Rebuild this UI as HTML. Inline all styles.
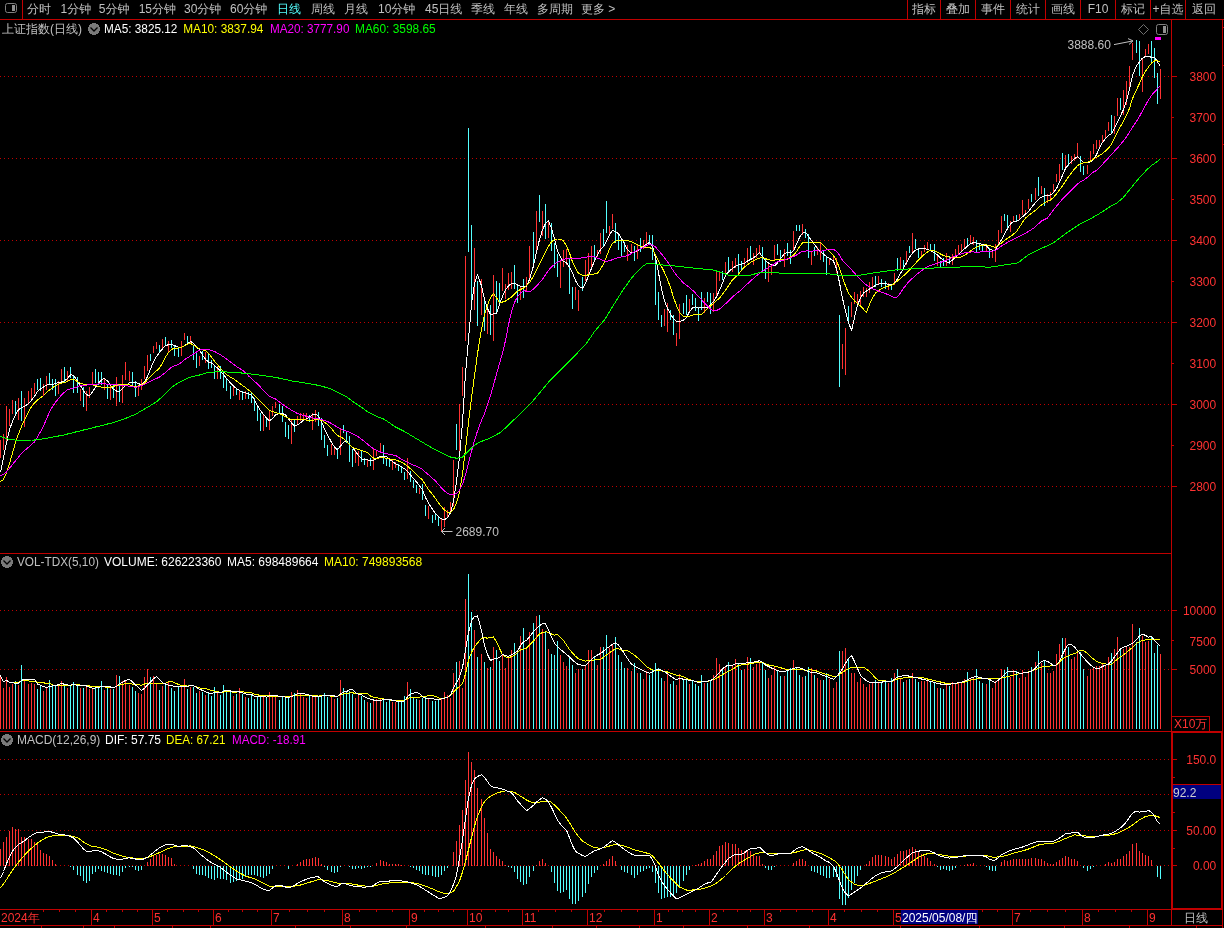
<!DOCTYPE html>
<html lang="zh"><head><meta charset="utf-8"><title>上证指数(日线)</title>
<style>
html,body{margin:0;padding:0;background:#000;}
body{width:1224px;height:928px;overflow:hidden;}
svg{display:block;will-change:transform;font-family:"Liberation Sans","WenQuanYi Zen Hei","Noto Sans CJK SC",sans-serif;shape-rendering:crispEdges;}
</style></head><body>
<svg width="1224" height="928" viewBox="0 0 1224 928">
<line x1="0" y1="486.5" x2="1171" y2="486.5" stroke="#c00000" stroke-dasharray="1 3"/>
<line x1="0" y1="404.5" x2="1171" y2="404.5" stroke="#c00000" stroke-dasharray="1 3"/>
<line x1="0" y1="322.5" x2="1171" y2="322.5" stroke="#c00000" stroke-dasharray="1 3"/>
<line x1="0" y1="240.5" x2="1171" y2="240.5" stroke="#c00000" stroke-dasharray="1 3"/>
<line x1="0" y1="158.5" x2="1171" y2="158.5" stroke="#c00000" stroke-dasharray="1 3"/>
<line x1="0" y1="76.5" x2="1171" y2="76.5" stroke="#c00000" stroke-dasharray="1 3"/>
<line x1="0" y1="610.5" x2="1171" y2="610.5" stroke="#c00000" stroke-dasharray="1 3"/>
<line x1="0" y1="669.5" x2="1171" y2="669.5" stroke="#c00000" stroke-dasharray="1 3"/>
<line x1="0" y1="759.5" x2="1171" y2="759.5" stroke="#c00000" stroke-dasharray="1 3"/>
<line x1="0" y1="794.5" x2="1171" y2="794.5" stroke="#c00000" stroke-dasharray="1 3"/>
<line x1="0" y1="830.5" x2="1171" y2="830.5" stroke="#c00000" stroke-dasharray="1 3"/>
<line x1="0" y1="865.5" x2="1171" y2="865.5" stroke="#c00000" stroke-dasharray="1 3"/>
<path d="M0.5 440V458M3.5 434V450M6.5 406V445M9.5 409V426M12.5 400V414M18.5 398V420M24.5 398V427M28.5 391V403M31.5 388V400M34.5 383V394M43.5 384V396M46.5 376V390M58.5 381V394M61.5 369V383M67.5 371V381M80.5 389V401M86.5 391V411M89.5 387V398M92.5 372V384M104.5 379V390M110.5 385V400M116.5 377V406M122.5 375V403M125.5 362V380M129.5 371V381M138.5 385V396M141.5 379V390M144.5 366V379M147.5 355V371M153.5 346V353M156.5 342V349M162.5 339V350M168.5 341V352M181.5 341V356M184.5 333V340M190.5 336V343M199.5 356V366M205.5 352V363M217.5 366V379M233.5 387V396M239.5 390V400M245.5 391V399M263.5 414V431M269.5 411V430M272.5 406V416M275.5 402V408M291.5 419V444M297.5 416V425M300.5 413V421M303.5 413V421M306.5 413V421M312.5 413V430M315.5 410V422M331.5 444V455M334.5 447V455M340.5 428V455M355.5 450V463M358.5 451V466M367.5 459V467M373.5 448V470M376.5 450V456M380.5 443V453M392.5 460V470M395.5 462V468M407.5 458V479M419.5 488V494M428.5 506V519M441.5 518V532M444.5 507V527M447.5 510V517M450.5 502V512M453.5 460V506M459.5 404V452M462.5 367V396M465.5 256V341M474.5 248V310M481.5 279V315M487.5 309V334M493.5 275V341M502.5 268V291M505.5 284V299M508.5 273V290M511.5 272V289M520.5 286V300M526.5 277V291M529.5 246V279M536.5 211V253M542.5 211V236M548.5 220V238M560.5 260V288M563.5 250V267M566.5 249V265M575.5 287V300M578.5 290V311M585.5 260V281M588.5 253V277M591.5 246V267M597.5 250V257M600.5 233V254M609.5 226V236M612.5 214V229M627.5 245V261M631.5 244V254M637.5 244V259M643.5 240V249M646.5 232V245M664.5 309V326M667.5 303V332M676.5 333V346M679.5 304V339M689.5 299V313M704.5 298V313M713.5 293V312M716.5 272V298M719.5 271V281M725.5 262V275M732.5 261V272M735.5 258V268M744.5 258V267M747.5 248V263M753.5 253V265M756.5 248V258M759.5 245V254M768.5 263V282M771.5 265V275M774.5 245V261M784.5 249V267M793.5 231V250M802.5 224V235M811.5 251V265M817.5 247V255M820.5 243V260M829.5 258V265M833.5 256V263M836.5 258V273M842.5 344V369M845.5 328V375M851.5 302V317M854.5 292V304M857.5 294V304M860.5 291V306M863.5 287V297M866.5 288V297M869.5 282V293M872.5 277V287M878.5 276V285M888.5 283V290M894.5 273V285M900.5 257V269M906.5 251V265M912.5 233V253M921.5 251V258M924.5 245V252M927.5 242V249M937.5 256V266M946.5 253V266M952.5 254V265M955.5 249V257M958.5 245V255M961.5 244V252M964.5 239V249M970.5 235V244M973.5 237V245M986.5 245V252M992.5 251V258M995.5 244V262M998.5 230V245M1001.5 216V233M1010.5 221V232M1013.5 216V222M1019.5 214V220M1022.5 200V215M1025.5 210V215M1028.5 199V209M1035.5 188V200M1041.5 186V194M1047.5 194V203M1050.5 192V199M1053.5 184V192M1056.5 174V182M1059.5 164V181M1065.5 155V170M1071.5 156V164M1074.5 154V161M1077.5 143V158M1087.5 165V174M1090.5 151V161M1093.5 144V154M1096.5 140V149M1099.5 140V149M1102.5 135V142M1105.5 130V138M1108.5 122V131M1114.5 116V134M1117.5 98V116M1123.5 90V115M1126.5 81V105M1129.5 66V90M1132.5 43V60M1142.5 59V92M1145.5 49V57M1148.5 44V54M1160.5 69V99" stroke="#ff3232" fill="none"/>
<path d="M15.5 401V416M21.5 391V421M37.5 379V390M40.5 378V391M49.5 373V385M52.5 379V390M55.5 379V396M64.5 367V383M70.5 367V378M73.5 375V393M77.5 377V393M83.5 387V407M95.5 369V383M98.5 372V385M101.5 372V385M107.5 384V399M113.5 384V398M119.5 384V402M132.5 372V387M135.5 381V397M150.5 354V361M159.5 345V353M165.5 337V346M171.5 340V348M174.5 346V356M178.5 347V357M187.5 336V344M193.5 346V360M196.5 352V368M202.5 351V360M208.5 354V369M211.5 360V368M214.5 365V379M220.5 366V379M223.5 371V388M226.5 378V391M230.5 386V399M236.5 389V395M242.5 391V400M248.5 392V399M251.5 393V403M254.5 398V411M257.5 406V421M260.5 413V431M266.5 417V427M279.5 404V414M282.5 406V422M285.5 422V437M288.5 425V439M294.5 420V432M309.5 415V422M318.5 412V426M321.5 418V440M324.5 435V448M327.5 445V456M337.5 448V459M343.5 425V433M346.5 432V443M349.5 436V462M352.5 449V467M361.5 451V462M364.5 458V465M370.5 458V466M383.5 445V464M386.5 458V466M389.5 460V467M398.5 464V471M401.5 466V473M404.5 472V480M410.5 471V482M413.5 480V488M416.5 485V493M422.5 484V500M425.5 505V516M432.5 515V523M435.5 513V520M438.5 517V526M456.5 424V450M468.5 128V252M471.5 225V302M477.5 281V326M484.5 300V331M490.5 305V335M496.5 281V312M499.5 283V305M514.5 265V289M517.5 284V303M523.5 279V298M533.5 232V267M539.5 195V222M545.5 204V239M551.5 223V251M554.5 243V268M557.5 254V277M569.5 259V294M572.5 287V309M582.5 277V291M594.5 245V260M603.5 229V247M606.5 201V233M615.5 223V243M618.5 233V250M621.5 239V257M624.5 242V252M634.5 246V261M640.5 238V252M649.5 235V244M652.5 235V260M655.5 254V305M658.5 292V320M661.5 315V327M670.5 310V320M673.5 315V335M683.5 303V314M686.5 295V315M692.5 294V305M695.5 298V311M698.5 307V321M701.5 292V310M707.5 292V302M710.5 293V314M722.5 271V280M728.5 257V271M738.5 254V275M741.5 261V271M750.5 246V259M762.5 247V272M765.5 259V279M777.5 244V255M780.5 250V262M787.5 243V256M790.5 250V264M796.5 225V231M799.5 225V231M805.5 229V238M808.5 234V258M814.5 247V256M823.5 250V262M826.5 257V275M839.5 315V387M848.5 306V322M875.5 276V287M881.5 279V287M885.5 281V289M891.5 284V290M897.5 258V271M903.5 260V269M909.5 246V253M915.5 239V249M918.5 248V258M930.5 244V250M934.5 244V261M940.5 261V268M943.5 258V266M949.5 256V264M967.5 238V247M976.5 240V253M979.5 243V250M982.5 244V251M989.5 248V258M1004.5 214V221M1007.5 215V229M1016.5 215V221M1031.5 194V202M1038.5 177V196M1044.5 188V206M1062.5 153V170M1068.5 154V166M1080.5 156V172M1083.5 166V175M1111.5 115V133M1120.5 98V110M1136.5 40V53M1139.5 41V76M1151.5 41V62M1154.5 48V78M1157.5 73V104" stroke="#54ffff" fill="none"/>
<path d="M0.5 472.2 3.5 457.2 6.5 443.1 9.5 429.7 12.5 421.5 15.5 414.6 18.5 409.6 21.5 407.8 24.5 406.3 28.5 403.8 31.5 400.1 34.5 396.3 37.5 391.4 40.5 389.1 43.5 387.1 46.5 385.1 49.5 384.8 52.5 384.5 55.5 383.5 58.5 382.7 61.5 382.0 64.5 380.9 67.5 378.5 70.5 374.9 73.5 375.2 77.5 381.2 80.5 385.7 83.5 391.0 86.5 394.5 89.5 396.0 92.5 391.8 95.5 387.3 98.5 383.1 101.5 379.8 104.5 378.5 107.5 381.0 110.5 384.9 113.5 389.4 116.5 391.0 119.5 391.8 122.5 388.8 125.5 385.8 129.5 382.6 132.5 382.2 135.5 382.2 138.5 383.7 141.5 384.6 144.5 382.3 147.5 376.6 150.5 369.0 153.5 361.8 156.5 356.4 159.5 352.4 162.5 348.8 165.5 345.8 168.5 344.6 171.5 344.5 174.5 345.5 178.5 347.4 181.5 347.3 184.5 345.8 187.5 343.6 190.5 341.4 193.5 343.3 196.5 346.9 199.5 349.7 202.5 355.1 205.5 359.3 208.5 362.1 211.5 362.9 214.5 365.6 217.5 368.1 220.5 371.0 223.5 374.7 226.5 378.3 230.5 383.1 233.5 386.1 236.5 388.5 239.5 390.5 242.5 392.3 245.5 392.8 248.5 393.7 251.5 395.5 254.5 399.8 257.5 405.6 260.5 410.5 263.5 414.6 266.5 418.0 269.5 420.8 272.5 418.6 275.5 414.9 279.5 413.6 282.5 413.7 285.5 414.7 288.5 418.9 291.5 422.8 294.5 426.1 297.5 424.9 300.5 422.7 303.5 420.2 306.5 418.7 309.5 416.9 312.5 414.7 315.5 414.0 318.5 416.3 321.5 421.6 324.5 428.8 327.5 434.8 331.5 442.3 334.5 447.1 337.5 449.8 340.5 446.0 343.5 442.4 346.5 441.0 349.5 444.7 352.5 447.7 355.5 451.4 358.5 455.5 361.5 458.8 364.5 459.7 367.5 460.0 370.5 460.4 373.5 460.6 376.5 458.4 380.5 456.4 383.5 456.2 386.5 456.5 389.5 459.2 392.5 461.5 395.5 463.6 398.5 465.1 401.5 466.8 404.5 468.8 407.5 471.5 410.5 475.0 413.5 478.5 416.5 482.0 419.5 485.9 422.5 490.0 425.5 497.5 428.5 503.0 432.5 509.4 435.5 513.4 438.5 516.6 441.5 519.0 444.5 519.5 447.5 517.9 450.5 512.6 453.5 501.3 456.5 481.4 459.5 456.9 462.5 422.4 465.5 373.5 468.5 339.7 471.5 303.8 474.5 283.7 477.5 274.3 481.5 285.9 484.5 299.2 487.5 308.5 490.5 314.5 493.5 314.0 496.5 313.3 499.5 304.3 502.5 296.5 505.5 289.9 508.5 286.0 511.5 283.4 514.5 283.1 517.5 285.1 520.5 286.3 523.5 286.9 526.5 286.4 529.5 279.4 533.5 265.8 536.5 251.8 539.5 239.6 542.5 229.8 545.5 223.4 548.5 220.7 551.5 228.7 554.5 238.7 557.5 250.6 560.5 257.2 563.5 261.5 566.5 262.6 569.5 267.1 572.5 273.0 575.5 280.5 578.5 285.8 582.5 288.4 585.5 283.3 588.5 275.8 591.5 268.3 594.5 260.8 597.5 254.7 600.5 249.7 603.5 246.8 606.5 241.5 609.5 234.6 612.5 230.3 615.5 231.5 618.5 233.8 621.5 238.4 624.5 244.2 627.5 249.6 631.5 253.1 634.5 252.0 637.5 250.6 640.5 248.8 643.5 246.4 646.5 244.2 649.5 242.3 652.5 246.5 655.5 257.3 658.5 272.7 661.5 288.9 664.5 300.7 667.5 308.4 670.5 314.2 673.5 318.7 676.5 321.2 679.5 321.5 683.5 320.2 686.5 317.4 689.5 311.6 692.5 308.0 695.5 306.9 698.5 308.1 701.5 307.8 704.5 307.5 707.5 307.2 710.5 304.9 713.5 301.5 716.5 296.7 719.5 290.3 722.5 283.1 725.5 275.5 728.5 271.9 732.5 268.3 735.5 266.2 738.5 264.7 741.5 264.3 744.5 263.3 747.5 260.9 750.5 259.5 753.5 257.9 756.5 255.5 759.5 252.6 762.5 256.7 765.5 260.4 768.5 263.1 771.5 264.9 774.5 265.8 777.5 262.9 780.5 258.5 784.5 253.7 787.5 252.3 790.5 252.9 793.5 250.8 796.5 244.3 799.5 237.3 802.5 233.3 805.5 232.1 808.5 236.4 811.5 240.4 814.5 244.5 817.5 248.4 820.5 251.4 823.5 254.1 826.5 256.5 829.5 258.4 833.5 261.1 836.5 268.8 839.5 282.8 842.5 298.3 845.5 311.5 848.5 322.4 851.5 330.7 854.5 317.5 857.5 305.3 860.5 297.7 863.5 293.1 866.5 291.1 869.5 289.1 872.5 287.1 875.5 285.4 878.5 284.1 881.5 283.3 885.5 283.4 888.5 284.8 891.5 285.0 894.5 282.7 897.5 278.9 900.5 273.5 903.5 268.1 906.5 262.7 909.5 257.3 912.5 253.2 915.5 250.2 918.5 249.0 921.5 248.4 924.5 248.4 927.5 249.5 930.5 250.7 934.5 252.6 937.5 255.0 940.5 257.9 943.5 260.6 946.5 262.0 949.5 262.1 952.5 260.2 955.5 257.0 958.5 254.5 961.5 251.8 964.5 248.8 967.5 246.1 970.5 243.8 973.5 242.6 976.5 243.1 979.5 243.9 982.5 244.2 986.5 245.8 989.5 249.4 992.5 250.1 995.5 250.1 998.5 244.5 1001.5 239.8 1004.5 234.2 1007.5 228.6 1010.5 223.9 1013.5 221.5 1016.5 221.3 1019.5 219.7 1022.5 216.8 1025.5 214.2 1028.5 211.4 1031.5 207.5 1035.5 202.6 1038.5 199.2 1041.5 197.1 1044.5 195.9 1047.5 195.4 1050.5 195.0 1053.5 192.8 1056.5 188.6 1059.5 182.1 1062.5 175.3 1065.5 168.3 1068.5 164.5 1071.5 161.2 1074.5 158.6 1077.5 156.6 1080.5 159.3 1083.5 162.3 1087.5 163.0 1090.5 161.9 1093.5 159.2 1096.5 154.8 1099.5 147.7 1102.5 142.4 1105.5 138.5 1108.5 135.5 1111.5 133.7 1114.5 127.9 1117.5 121.8 1120.5 115.8 1123.5 109.4 1126.5 101.0 1129.5 89.0 1132.5 75.6 1136.5 65.7 1139.5 61.7 1142.5 58.1 1145.5 56.4 1148.5 56.4 1151.5 57.3 1154.5 57.1 1157.5 61.9 1160.0 65.9" stroke="#ffffff" fill="none" stroke-linejoin="bevel"/>
<path d="M0.5 481.6 3.5 479.4 6.5 472.9 9.5 463.4 12.5 452.9 15.5 442.8 18.5 433.9 21.5 426.4 24.5 420.2 28.5 412.2 31.5 406.5 34.5 403.0 37.5 399.9 40.5 397.9 43.5 395.5 46.5 392.5 49.5 390.0 52.5 387.7 55.5 385.6 58.5 384.3 61.5 383.2 64.5 382.5 67.5 381.3 70.5 379.5 73.5 379.2 77.5 381.6 80.5 383.1 83.5 384.2 86.5 384.7 89.5 384.9 92.5 384.9 95.5 385.6 98.5 386.6 101.5 387.1 104.5 387.5 107.5 387.6 110.5 387.3 113.5 386.4 116.5 385.2 119.5 384.9 122.5 384.9 125.5 384.9 129.5 384.9 132.5 385.8 135.5 386.8 138.5 385.8 141.5 384.7 144.5 383.2 147.5 379.6 150.5 376.4 153.5 373.4 156.5 370.8 159.5 368.2 162.5 362.9 165.5 357.1 168.5 352.5 171.5 349.2 174.5 348.6 178.5 347.9 181.5 347.3 184.5 345.8 187.5 344.1 190.5 343.4 193.5 345.2 196.5 347.0 199.5 348.9 202.5 349.8 205.5 350.5 208.5 353.2 211.5 357.1 214.5 361.1 217.5 364.7 220.5 368.3 223.5 371.8 226.5 374.4 230.5 377.3 233.5 378.8 236.5 380.9 239.5 383.4 242.5 385.5 245.5 387.5 248.5 390.0 251.5 392.5 254.5 395.5 257.5 398.5 260.5 401.5 263.5 404.5 266.5 407.5 269.5 410.5 272.5 411.6 275.5 412.5 279.5 413.6 282.5 415.0 285.5 416.7 288.5 418.2 291.5 419.7 294.5 419.7 297.5 419.7 300.5 419.5 303.5 419.5 306.5 420.1 309.5 420.6 312.5 420.2 315.5 419.7 318.5 419.7 321.5 420.2 324.5 422.2 327.5 424.5 331.5 428.5 334.5 432.6 337.5 435.7 340.5 436.7 343.5 438.7 346.5 441.7 349.5 444.7 352.5 447.4 355.5 448.5 358.5 449.6 361.5 450.5 364.5 451.3 367.5 452.6 370.5 455.6 373.5 458.0 376.5 458.9 380.5 457.6 383.5 457.7 386.5 458.2 389.5 458.9 392.5 459.7 395.5 459.9 398.5 461.0 401.5 462.1 404.5 464.0 407.5 466.3 410.5 468.8 413.5 471.8 416.5 474.8 419.5 477.3 422.5 479.9 425.5 484.9 428.5 489.6 432.5 494.3 435.5 498.4 438.5 502.9 441.5 506.7 444.5 509.9 447.5 512.3 450.5 512.8 453.5 509.5 456.5 503.3 459.5 492.0 462.5 474.0 465.5 449.1 468.5 422.5 471.5 398.0 474.5 375.7 477.5 353.7 481.5 329.1 484.5 315.1 487.5 305.2 490.5 297.6 493.5 293.6 496.5 297.8 499.5 302.6 502.5 302.0 505.5 301.0 508.5 299.0 511.5 297.0 514.5 294.2 517.5 291.2 520.5 289.5 523.5 288.0 526.5 285.7 529.5 282.7 533.5 276.1 536.5 270.1 539.5 264.1 542.5 258.1 545.5 252.1 548.5 246.1 551.5 241.9 554.5 239.3 557.5 239.0 560.5 239.4 563.5 240.9 566.5 246.1 569.5 252.9 572.5 261.9 575.5 268.3 578.5 273.2 582.5 275.2 585.5 275.6 588.5 274.7 591.5 274.2 594.5 274.0 597.5 273.4 600.5 269.2 603.5 264.1 606.5 256.5 609.5 248.9 612.5 243.1 615.5 241.4 618.5 240.0 621.5 240.0 624.5 240.0 627.5 240.2 631.5 241.9 634.5 243.2 637.5 244.7 640.5 246.1 643.5 247.4 646.5 248.0 649.5 247.4 652.5 249.5 655.5 254.6 658.5 261.1 661.5 266.6 664.5 272.5 667.5 279.5 670.5 287.6 673.5 297.2 676.5 305.7 679.5 312.3 683.5 316.4 686.5 316.7 689.5 316.1 692.5 315.1 695.5 314.8 698.5 314.7 701.5 314.3 704.5 311.3 707.5 308.5 710.5 305.9 713.5 303.3 716.5 300.7 719.5 298.1 722.5 294.3 725.5 290.4 728.5 285.6 732.5 279.8 735.5 277.2 738.5 274.3 741.5 270.3 744.5 267.0 747.5 264.7 750.5 262.5 753.5 260.8 756.5 259.1 759.5 258.1 762.5 257.8 765.5 258.7 768.5 259.7 771.5 260.4 774.5 260.1 777.5 259.7 780.5 259.5 784.5 259.3 787.5 259.1 790.5 257.1 793.5 255.1 796.5 251.7 799.5 246.8 802.5 242.8 805.5 242.4 808.5 242.0 811.5 242.4 814.5 242.8 817.5 242.5 820.5 242.3 823.5 245.3 826.5 248.3 829.5 251.3 833.5 255.8 836.5 260.4 839.5 268.7 842.5 277.7 845.5 285.8 848.5 293.0 851.5 297.1 854.5 300.9 857.5 303.5 860.5 306.1 863.5 309.2 866.5 312.4 869.5 304.5 872.5 298.1 875.5 293.0 878.5 290.6 881.5 288.7 885.5 286.8 888.5 286.0 891.5 285.3 894.5 283.4 897.5 280.9 900.5 278.3 903.5 275.8 906.5 272.9 909.5 269.9 912.5 266.7 915.5 263.3 918.5 260.0 921.5 257.0 924.5 254.2 927.5 252.1 930.5 250.3 934.5 250.7 937.5 252.4 940.5 254.0 943.5 255.5 946.5 256.7 949.5 257.1 952.5 257.5 955.5 257.5 958.5 257.5 961.5 256.9 964.5 255.2 967.5 253.3 970.5 251.0 973.5 248.8 976.5 247.2 979.5 245.7 982.5 245.2 986.5 244.8 989.5 245.5 992.5 246.7 995.5 247.2 998.5 245.2 1001.5 242.9 1004.5 240.4 1007.5 238.4 1010.5 236.4 1013.5 234.2 1016.5 231.4 1019.5 227.2 1022.5 222.2 1025.5 218.0 1028.5 215.5 1031.5 213.3 1035.5 210.3 1038.5 207.3 1041.5 204.9 1044.5 202.8 1047.5 201.3 1050.5 200.0 1053.5 197.3 1056.5 194.0 1059.5 189.9 1062.5 185.8 1065.5 181.3 1068.5 176.8 1071.5 172.8 1074.5 168.9 1077.5 165.8 1080.5 163.5 1083.5 163.0 1087.5 162.1 1090.5 161.1 1093.5 159.1 1096.5 157.2 1099.5 155.4 1102.5 153.6 1105.5 150.9 1108.5 148.2 1111.5 144.0 1114.5 137.9 1117.5 131.9 1120.5 126.4 1123.5 121.4 1126.5 115.3 1129.5 108.3 1132.5 98.7 1136.5 89.8 1139.5 83.4 1142.5 76.4 1145.5 71.4 1148.5 67.0 1151.5 63.1 1154.5 60.9 1157.5 60.7 1160.0 61.7" stroke="#ffff00" fill="none" stroke-linejoin="bevel"/>
<path d="M0.5 475.5 3.5 474.7 6.5 471.9 9.5 468.3 12.5 464.6 15.5 460.8 18.5 457.1 21.5 453.3 24.5 450.6 28.5 447.2 31.5 444.6 34.5 442.0 37.5 437.0 40.5 431.6 43.5 426.1 46.5 418.9 49.5 412.3 52.5 406.5 55.5 402.3 58.5 398.5 61.5 395.0 64.5 392.2 67.5 389.7 70.5 388.9 73.5 388.2 77.5 386.7 80.5 385.5 83.5 385.3 86.5 385.1 89.5 384.8 92.5 384.6 95.5 384.4 98.5 384.0 101.5 383.6 104.5 383.8 107.5 384.2 110.5 384.6 113.5 384.8 116.5 384.9 119.5 385.1 122.5 385.3 125.5 385.7 129.5 386.3 132.5 386.8 135.5 387.3 138.5 386.5 141.5 385.6 144.5 384.1 147.5 382.6 150.5 381.1 153.5 379.7 156.5 378.5 159.5 377.1 162.5 374.8 165.5 372.5 168.5 369.8 171.5 367.2 174.5 365.8 178.5 364.3 181.5 362.2 184.5 359.7 187.5 357.7 190.5 355.9 193.5 354.0 196.5 352.0 199.5 350.1 202.5 349.5 205.5 349.2 208.5 349.8 211.5 350.3 214.5 351.5 217.5 353.1 220.5 354.8 223.5 356.8 226.5 359.0 230.5 362.0 233.5 364.3 236.5 366.5 239.5 368.4 242.5 370.3 245.5 372.8 248.5 375.8 251.5 378.7 254.5 381.4 257.5 384.0 260.5 387.2 263.5 390.7 266.5 393.5 269.5 396.2 272.5 397.6 275.5 399.0 279.5 402.0 282.5 404.2 285.5 406.3 288.5 408.3 291.5 410.1 294.5 411.9 297.5 413.5 300.5 414.4 303.5 415.4 306.5 416.3 309.5 417.2 312.5 418.0 315.5 418.4 318.5 418.8 321.5 419.6 324.5 420.5 327.5 421.4 331.5 423.6 334.5 425.5 337.5 427.1 340.5 428.6 343.5 430.1 346.5 431.2 349.5 432.3 352.5 433.7 355.5 435.2 358.5 437.0 361.5 439.2 364.5 441.5 367.5 444.1 370.5 446.7 373.5 448.8 376.5 450.3 380.5 452.0 383.5 452.8 386.5 453.5 389.5 454.3 392.5 455.0 395.5 455.4 398.5 457.3 401.5 459.2 404.5 460.8 407.5 462.3 410.5 463.8 413.5 465.1 416.5 466.3 419.5 467.5 422.5 469.5 425.5 472.2 428.5 474.8 432.5 478.3 435.5 481.0 438.5 484.5 441.5 487.9 444.5 490.9 447.5 493.4 450.5 495.0 453.5 494.7 456.5 493.4 459.5 490.4 462.5 484.3 465.5 474.8 468.5 463.3 471.5 451.3 474.5 440.6 477.5 431.0 481.5 420.5 484.5 413.5 487.5 404.7 490.5 395.6 493.5 384.9 496.5 374.2 499.5 363.6 502.5 352.9 505.5 340.6 508.5 324.8 511.5 311.9 514.5 302.3 517.5 297.0 520.5 293.1 523.5 290.6 526.5 291.2 529.5 292.0 533.5 289.0 536.5 286.2 539.5 282.7 542.5 279.2 545.5 274.8 548.5 270.3 551.5 266.9 554.5 264.4 557.5 262.1 560.5 260.6 563.5 259.1 566.5 258.9 569.5 258.9 572.5 258.9 575.5 258.6 578.5 258.3 582.5 257.8 585.5 257.3 588.5 256.7 591.5 256.2 594.5 256.9 597.5 258.1 600.5 259.3 603.5 260.6 606.5 261.3 609.5 260.8 612.5 259.6 615.5 258.4 618.5 257.5 621.5 257.0 624.5 256.6 627.5 255.6 631.5 253.4 634.5 251.8 637.5 250.3 640.5 248.8 643.5 247.2 646.5 245.5 649.5 244.2 652.5 245.2 655.5 247.0 658.5 250.4 661.5 253.9 664.5 257.8 667.5 261.7 670.5 266.3 673.5 271.0 676.5 275.3 679.5 278.7 683.5 282.9 686.5 285.2 689.5 287.4 692.5 290.2 695.5 293.2 698.5 296.4 701.5 299.7 704.5 303.1 707.5 306.2 710.5 309.2 713.5 310.7 716.5 310.5 719.5 309.1 722.5 306.5 725.5 303.8 728.5 301.0 732.5 297.0 735.5 294.3 738.5 292.1 741.5 289.8 744.5 286.8 747.5 283.8 750.5 281.0 753.5 278.4 756.5 275.8 759.5 273.6 762.5 271.3 765.5 269.3 768.5 267.5 771.5 265.6 774.5 263.7 777.5 261.8 780.5 260.8 784.5 259.8 787.5 258.8 790.5 257.7 793.5 256.5 796.5 255.0 799.5 253.0 802.5 251.4 805.5 251.1 808.5 250.8 811.5 251.6 814.5 250.4 817.5 250.5 820.5 251.4 823.5 250.7 826.5 249.9 829.5 249.6 833.5 249.3 836.5 251.2 839.5 255.2 842.5 260.2 845.5 263.6 848.5 266.6 851.5 269.7 854.5 273.1 857.5 276.5 860.5 279.5 863.5 282.5 866.5 285.0 869.5 286.9 872.5 288.7 875.5 289.8 878.5 291.0 881.5 292.1 885.5 293.6 888.5 294.8 891.5 296.2 894.5 297.5 897.5 297.0 900.5 292.7 903.5 288.3 906.5 284.5 909.5 280.9 912.5 278.2 915.5 275.5 918.5 272.9 921.5 270.8 924.5 268.7 927.5 266.7 930.5 265.6 934.5 264.3 937.5 263.3 940.5 262.3 943.5 261.4 946.5 260.3 949.5 258.8 952.5 257.4 955.5 256.0 958.5 254.9 961.5 253.9 964.5 252.9 967.5 252.5 970.5 252.1 973.5 251.8 976.5 252.5 979.5 252.1 982.5 251.5 986.5 251.5 989.5 251.5 992.5 251.2 995.5 250.5 998.5 248.2 1001.5 246.0 1004.5 244.2 1007.5 242.4 1010.5 240.6 1013.5 239.1 1016.5 237.6 1019.5 236.1 1022.5 234.6 1025.5 233.1 1028.5 231.4 1031.5 229.6 1035.5 226.8 1038.5 223.8 1041.5 221.0 1044.5 219.5 1047.5 218.0 1050.5 214.0 1053.5 209.9 1056.5 206.2 1059.5 202.6 1062.5 199.0 1065.5 196.0 1068.5 193.0 1071.5 190.0 1074.5 187.0 1077.5 184.0 1080.5 181.7 1083.5 180.2 1087.5 177.3 1090.5 174.3 1093.5 172.0 1096.5 170.5 1099.5 167.6 1102.5 164.3 1105.5 161.1 1108.5 157.8 1111.5 154.5 1114.5 151.2 1117.5 147.9 1120.5 144.6 1123.5 140.8 1126.5 137.0 1129.5 132.2 1132.5 127.3 1136.5 121.3 1139.5 116.4 1142.5 110.8 1145.5 105.3 1148.5 100.0 1151.5 95.4 1154.5 92.0 1157.5 88.7 1160.0 86.2" stroke="#ff00ff" fill="none" stroke-linejoin="bevel"/>
<path d="M0.5 436.4 3.5 437.5 6.5 438.7 9.5 439.3 12.5 439.7 15.5 440.1 18.5 440.4 21.5 440.3 24.5 440.3 28.5 440.1 31.5 440.0 34.5 440.0 37.5 439.7 40.5 439.2 43.5 438.7 46.5 438.2 49.5 437.7 52.5 437.1 55.5 436.6 58.5 436.0 61.5 435.5 64.5 434.8 67.5 434.0 70.5 433.3 73.5 432.5 77.5 431.5 80.5 430.8 83.5 430.0 86.5 429.3 89.5 428.5 92.5 427.8 95.5 427.0 98.5 426.3 101.5 425.5 104.5 424.8 107.5 424.0 110.5 423.3 113.5 422.5 116.5 421.5 119.5 420.5 122.5 419.5 125.5 418.4 129.5 416.8 132.5 415.5 135.5 414.3 138.5 412.5 141.5 410.8 144.5 409.0 147.5 407.3 150.5 405.5 153.5 403.7 156.5 401.7 159.5 399.2 162.5 396.4 165.5 393.4 168.5 390.4 171.5 387.4 174.5 385.3 178.5 382.8 181.5 381.2 184.5 379.7 187.5 378.2 190.5 377.2 193.5 376.4 196.5 375.7 199.5 375.0 202.5 374.1 205.5 373.1 208.5 372.4 211.5 372.2 214.5 372.0 217.5 371.8 220.5 371.8 223.5 371.9 226.5 372.0 230.5 372.1 233.5 372.2 236.5 372.5 239.5 372.8 242.5 373.1 245.5 373.4 248.5 373.7 251.5 374.1 254.5 374.4 257.5 374.8 260.5 375.2 263.5 375.6 266.5 376.1 269.5 376.5 272.5 377.0 275.5 377.4 279.5 378.2 282.5 378.9 285.5 379.5 288.5 380.2 291.5 380.9 294.5 381.4 297.5 381.8 300.5 382.3 303.5 382.7 306.5 383.2 309.5 383.7 312.5 384.3 315.5 384.8 318.5 385.4 321.5 386.2 324.5 387.0 327.5 387.9 331.5 389.3 334.5 390.8 337.5 392.3 340.5 393.8 343.5 395.3 346.5 396.8 349.5 399.1 352.5 401.3 355.5 403.4 358.5 405.3 361.5 407.2 364.5 409.4 367.5 411.7 370.5 413.4 373.5 414.9 376.5 416.3 380.5 417.8 383.5 419.0 386.5 420.9 389.5 422.8 392.5 424.9 395.5 427.0 398.5 428.5 401.5 430.0 404.5 431.5 407.5 433.3 410.5 435.1 413.5 436.9 416.5 438.7 419.5 440.5 422.5 442.3 425.5 444.1 428.5 445.9 432.5 448.2 435.5 449.7 438.5 451.2 441.5 452.7 444.5 454.2 447.5 455.7 450.5 457.0 453.5 457.6 456.5 458.2 459.5 457.8 462.5 457.0 465.5 454.2 468.5 451.2 471.5 448.2 474.5 445.4 477.5 443.4 481.5 441.4 484.5 440.3 487.5 439.1 490.5 437.6 493.5 436.1 496.5 434.6 499.5 433.0 502.5 430.5 505.5 427.9 508.5 424.9 511.5 421.9 514.5 419.2 517.5 416.5 520.5 413.8 523.5 410.8 526.5 407.8 529.5 404.8 533.5 400.2 536.5 396.6 539.5 393.0 542.5 389.4 545.5 385.8 548.5 382.2 551.5 379.1 554.5 376.1 557.5 373.1 560.5 370.0 563.5 367.0 566.5 364.0 569.5 360.9 572.5 357.9 575.5 354.9 578.5 351.8 582.5 347.8 585.5 344.7 588.5 340.3 591.5 336.0 594.5 331.6 597.5 328.0 600.5 324.5 603.5 321.1 606.5 316.8 609.5 311.8 612.5 306.7 615.5 301.9 618.5 297.1 621.5 292.3 624.5 287.9 627.5 283.7 631.5 278.1 634.5 274.7 637.5 271.3 640.5 268.3 643.5 265.8 646.5 263.9 649.5 263.3 652.5 263.7 655.5 264.1 658.5 264.6 661.5 264.9 664.5 265.1 667.5 265.3 670.5 265.5 673.5 265.8 676.5 266.2 679.5 266.5 683.5 266.9 686.5 267.3 689.5 267.6 692.5 268.0 695.5 268.3 698.5 268.7 701.5 268.9 704.5 269.1 707.5 269.3 710.5 269.5 713.5 270.1 716.5 271.0 719.5 271.9 722.5 272.8 725.5 274.0 728.5 275.1 732.5 275.3 735.5 275.4 738.5 275.5 741.5 275.4 744.5 275.3 747.5 275.3 750.5 275.2 753.5 274.3 756.5 273.4 759.5 272.5 762.5 272.4 765.5 272.4 768.5 272.4 771.5 272.5 774.5 272.7 777.5 272.9 780.5 273.1 784.5 273.3 787.5 273.3 790.5 273.3 793.5 273.3 796.5 273.3 799.5 273.3 802.5 273.2 805.5 273.2 808.5 273.1 811.5 273.2 814.5 273.3 817.5 273.4 820.5 273.5 823.5 273.6 826.5 273.7 829.5 274.0 833.5 274.5 836.5 274.8 839.5 275.2 842.5 275.6 845.5 275.8 848.5 275.8 851.5 275.7 854.5 275.6 857.5 275.5 860.5 275.1 863.5 274.6 866.5 274.1 869.5 273.6 872.5 273.1 875.5 272.7 878.5 272.2 881.5 271.8 885.5 271.2 888.5 270.9 891.5 270.5 894.5 270.1 897.5 269.7 900.5 269.4 903.5 269.2 906.5 269.1 909.5 268.9 912.5 268.7 915.5 268.5 918.5 268.3 921.5 268.3 924.5 268.2 927.5 268.2 930.5 268.1 934.5 268.0 937.5 267.9 940.5 267.8 943.5 267.7 946.5 267.6 949.5 267.5 952.5 267.3 955.5 267.2 958.5 267.1 961.5 266.9 964.5 266.8 967.5 266.6 970.5 266.5 973.5 266.4 976.5 266.5 979.5 266.7 982.5 266.8 986.5 267.1 989.5 267.2 992.5 266.9 995.5 266.4 998.5 265.9 1001.5 265.5 1004.5 265.0 1007.5 264.6 1010.5 264.1 1013.5 263.6 1016.5 263.2 1019.5 261.7 1022.5 259.3 1025.5 256.9 1028.5 254.7 1031.5 253.2 1035.5 251.2 1038.5 249.7 1041.5 248.3 1044.5 247.0 1047.5 245.7 1050.5 244.4 1053.5 242.8 1056.5 240.6 1059.5 238.3 1062.5 236.1 1065.5 233.8 1068.5 231.7 1071.5 229.7 1074.5 227.6 1077.5 225.6 1080.5 223.8 1083.5 222.3 1087.5 220.3 1090.5 218.8 1093.5 217.0 1096.5 215.3 1099.5 213.5 1102.5 211.6 1105.5 209.6 1108.5 207.6 1111.5 205.8 1114.5 204.3 1117.5 202.6 1120.5 199.9 1123.5 197.3 1126.5 193.6 1129.5 189.8 1132.5 186.1 1136.5 181.1 1139.5 177.7 1142.5 174.3 1145.5 171.2 1148.5 168.2 1151.5 165.6 1154.5 163.4 1157.5 161.2 1160.0 159.5" stroke="#00ff00" fill="none" stroke-linejoin="bevel"/>
<path d="M0.5 675V729M3.5 688V729M6.5 677V729M9.5 687V729M12.5 684V729M18.5 685V729M24.5 679V729M28.5 684V729M31.5 683V729M34.5 684V729M43.5 691V729M46.5 687V729M58.5 685V729M61.5 681V729M67.5 688V729M80.5 688V729M86.5 687V729M89.5 689V729M92.5 688V729M104.5 690V729M110.5 689V729M116.5 675V729M122.5 681V729M125.5 680V729M129.5 685V729M138.5 693V729M141.5 694V729M144.5 677V729M147.5 669V729M153.5 676V729M156.5 684V729M162.5 686V729M168.5 681V729M181.5 686V729M184.5 679V729M190.5 687V729M199.5 691V729M205.5 695V729M217.5 693V729M233.5 696V729M239.5 688V729M245.5 697V729M263.5 696V729M269.5 692V729M272.5 696V729M275.5 696V729M291.5 692V729M297.5 690V729M300.5 694V729M303.5 697V729M306.5 698V729M312.5 696V729M315.5 697V729M331.5 696V729M334.5 699V729M340.5 680V729M355.5 698V729M358.5 695V729M367.5 702V729M373.5 699V729M376.5 699V729M380.5 699V729M392.5 702V729M395.5 702V729M407.5 682V729M419.5 700V729M428.5 699V729M441.5 699V729M444.5 692V729M447.5 695V729M450.5 698V729M453.5 673V729M459.5 661V729M462.5 688V729M465.5 599V729M474.5 630V729M481.5 654V729M487.5 668V729M493.5 647V729M502.5 654V729M505.5 668V729M508.5 656V729M511.5 650V729M520.5 636V729M526.5 647V729M529.5 632V729M536.5 616V729M542.5 629V729M548.5 649V729M560.5 655V729M563.5 662V729M566.5 666V729M575.5 673V729M578.5 669V729M585.5 666V729M588.5 650V729M591.5 650V729M597.5 665V729M600.5 647V729M609.5 648V729M612.5 645V729M627.5 668V729M631.5 671V729M637.5 673V729M643.5 679V729M646.5 671V729M664.5 681V729M667.5 673V729M676.5 685V729M679.5 674V729M689.5 684V729M704.5 683V729M713.5 675V729M716.5 658V729M719.5 664V729M725.5 667V729M732.5 666V729M735.5 659V729M744.5 669V729M747.5 657V729M753.5 667V729M756.5 664V729M759.5 662V729M768.5 678V729M771.5 675V729M774.5 666V729M784.5 676V729M793.5 660V729M802.5 677V729M811.5 668V729M817.5 678V729M820.5 680V729M829.5 679V729M833.5 688V729M836.5 682V729M842.5 651V729M845.5 648V729M851.5 673V729M854.5 673V729M857.5 682V729M860.5 678V729M863.5 684V729M866.5 687V729M869.5 684V729M872.5 682V729M878.5 682V729M888.5 683V729M894.5 673V729M900.5 678V729M906.5 680V729M912.5 673V729M921.5 681V729M924.5 681V729M927.5 681V729M937.5 688V729M946.5 685V729M952.5 682V729M955.5 683V729M958.5 683V729M961.5 683V729M964.5 679V729M970.5 679V729M973.5 678V729M986.5 684V729M992.5 688V729M995.5 681V729M998.5 679V729M1001.5 669V729M1010.5 677V729M1013.5 670V729M1019.5 678V729M1022.5 670V729M1025.5 677V729M1028.5 672V729M1035.5 662V729M1041.5 663V729M1047.5 673V729M1050.5 673V729M1053.5 671V729M1056.5 654V729M1059.5 644V729M1065.5 638V729M1071.5 659V729M1074.5 657V729M1077.5 652V729M1087.5 676V729M1090.5 669V729M1093.5 668V729M1096.5 666V729M1099.5 666V729M1102.5 664V729M1105.5 665V729M1108.5 657V729M1114.5 649V729M1117.5 637V729M1123.5 649V729M1126.5 647V729M1129.5 647V729M1132.5 624V729M1142.5 636V729M1145.5 642V729M1148.5 641V729M1160.5 654V729" stroke="#ff3232" fill="none"/>
<path d="M15.5 681V729M21.5 665V729M37.5 689V729M40.5 685V729M49.5 680V729M52.5 685V729M55.5 685V729M64.5 685V729M70.5 686V729M73.5 682V729M77.5 684V729M83.5 688V729M95.5 687V729M98.5 686V729M101.5 681V729M107.5 688V729M113.5 689V729M119.5 676V729M132.5 687V729M135.5 691V729M150.5 677V729M159.5 690V729M165.5 683V729M171.5 688V729M174.5 691V729M178.5 686V729M187.5 689V729M193.5 687V729M196.5 693V729M202.5 692V729M208.5 693V729M211.5 696V729M214.5 687V729M220.5 695V729M223.5 685V729M226.5 690V729M230.5 691V729M236.5 694V729M242.5 694V729M248.5 698V729M251.5 694V729M254.5 699V729M257.5 696V729M260.5 697V729M266.5 697V729M279.5 700V729M282.5 697V729M285.5 697V729M288.5 697V729M294.5 693V729M309.5 696V729M318.5 696V729M321.5 695V729M324.5 693V729M327.5 697V729M337.5 698V729M343.5 688V729M346.5 692V729M349.5 691V729M352.5 694V729M361.5 696V729M364.5 700V729M370.5 703V729M383.5 698V729M386.5 702V729M389.5 700V729M398.5 702V729M401.5 702V729M404.5 696V729M410.5 689V729M413.5 697V729M416.5 699V729M422.5 698V729M425.5 697V729M432.5 701V729M435.5 701V729M438.5 699V729M456.5 662V729M468.5 574V729M471.5 612V729M477.5 657V729M484.5 662V729M490.5 667V729M496.5 650V729M499.5 661V729M514.5 643V729M517.5 650V729M523.5 628V729M533.5 623V729M539.5 615V729M545.5 631V729M551.5 654V729M554.5 655V729M557.5 641V729M569.5 656V729M572.5 665V729M582.5 669V729M594.5 656V729M603.5 647V729M606.5 635V729M615.5 637V729M618.5 655V729M621.5 662V729M624.5 668V729M634.5 663V729M640.5 673V729M649.5 675V729M652.5 669V729M655.5 663V729M658.5 668V729M661.5 678V729M670.5 684V729M673.5 681V729M683.5 679V729M686.5 679V729M692.5 680V729M695.5 684V729M698.5 686V729M701.5 675V729M707.5 683V729M710.5 681V729M722.5 668V729M728.5 662V729M738.5 664V729M741.5 670V729M750.5 658V729M762.5 662V729M765.5 670V729M777.5 670V729M780.5 676V729M787.5 670V729M790.5 668V729M796.5 668V729M799.5 675V729M805.5 676V729M808.5 667V729M814.5 675V729M823.5 680V729M826.5 673V729M839.5 651V729M848.5 659V729M875.5 680V729M881.5 682V729M885.5 682V729M891.5 678V729M897.5 669V729M903.5 682V729M909.5 679V729M915.5 679V729M918.5 682V729M930.5 682V729M934.5 682V729M940.5 688V729M943.5 689V729M949.5 686V729M967.5 672V729M976.5 669V729M979.5 681V729M982.5 683V729M989.5 680V729M1004.5 670V729M1007.5 667V729M1016.5 671V729M1031.5 667V729M1038.5 651V729M1044.5 661V729M1062.5 638V729M1068.5 647V729M1080.5 652V729M1083.5 669V729M1111.5 653V729M1120.5 648V729M1136.5 642V729M1139.5 628V729M1151.5 636V729M1154.5 653V729M1157.5 645V729" stroke="#54ffff" fill="none"/>
<path d="M0.5 675.5 3.5 681.9 6.5 680.4 9.5 682.1 12.5 682.5 15.5 682.4 18.5 682.8 21.5 680.5 24.5 680.4 28.5 680.8 31.5 681.6 34.5 681.2 37.5 682.4 40.5 682.2 43.5 682.8 46.5 683.4 49.5 682.9 52.5 684.9 55.5 685.5 58.5 685.6 61.5 685.4 64.5 685.5 67.5 685.4 70.5 685.5 73.5 684.6 77.5 684.3 80.5 685.1 83.5 685.4 86.5 685.6 89.5 686.0 92.5 686.7 95.5 686.9 98.5 686.7 101.5 686.2 104.5 687.0 107.5 687.4 110.5 687.5 113.5 687.6 116.5 686.4 119.5 685.1 122.5 684.4 125.5 683.6 129.5 683.5 132.5 684.2 135.5 684.3 138.5 684.7 141.5 685.2 144.5 684.0 147.5 683.4 150.5 683.5 153.5 683.0 156.5 683.5 159.5 683.9 162.5 683.8 165.5 683.1 168.5 681.9 171.5 681.3 174.5 682.7 178.5 684.4 181.5 685.4 184.5 685.6 187.5 686.1 190.5 685.8 193.5 685.9 196.5 686.9 199.5 687.9 202.5 688.3 205.5 688.7 208.5 689.4 211.5 690.4 214.5 691.1 217.5 691.5 220.5 692.3 223.5 692.1 226.5 691.8 230.5 691.8 233.5 692.2 236.5 692.1 239.5 691.6 242.5 691.4 245.5 692.5 248.5 692.9 251.5 692.8 254.5 694.2 257.5 694.8 260.5 695.4 263.5 695.4 266.5 695.7 269.5 696.1 272.5 696.3 275.5 696.2 279.5 696.4 282.5 696.7 285.5 696.5 288.5 696.6 291.5 696.1 294.5 695.8 297.5 695.1 300.5 695.3 303.5 695.4 306.5 695.6 309.5 695.2 312.5 695.1 315.5 695.1 318.5 695.0 321.5 695.3 324.5 695.3 327.5 695.9 331.5 696.1 334.5 696.3 337.5 696.3 340.5 694.7 343.5 693.9 346.5 693.4 349.5 692.9 352.5 692.8 355.5 693.4 358.5 693.2 361.5 693.2 364.5 693.3 367.5 693.7 370.5 696.0 373.5 697.1 376.5 697.7 380.5 698.5 383.5 698.9 386.5 699.3 389.5 699.8 392.5 700.4 395.5 700.6 398.5 700.6 401.5 700.5 404.5 700.2 407.5 698.5 410.5 697.5 413.5 697.4 416.5 697.1 419.5 697.1 422.5 696.7 425.5 696.2 428.5 695.9 432.5 695.7 435.5 696.2 438.5 697.9 441.5 698.6 444.5 697.8 447.5 697.1 450.5 695.7 453.5 692.2 456.5 688.9 459.5 686.3 462.5 683.6 465.5 673.9 468.5 660.4 471.5 652.4 474.5 646.9 477.5 643.0 481.5 638.4 484.5 637.8 487.5 638.1 490.5 637.7 493.5 636.9 496.5 641.9 499.5 648.3 502.5 654.8 505.5 656.9 508.5 657.9 511.5 656.6 514.5 655.3 517.5 652.6 520.5 650.0 523.5 649.2 526.5 648.2 529.5 645.2 533.5 641.0 536.5 637.4 539.5 633.9 542.5 632.6 545.5 631.8 548.5 632.3 551.5 634.0 554.5 635.1 557.5 634.4 560.5 637.4 563.5 640.6 566.5 645.0 569.5 649.5 572.5 652.9 575.5 656.3 578.5 658.7 582.5 660.2 585.5 661.1 588.5 660.8 591.5 660.4 594.5 660.0 597.5 659.6 600.5 659.3 603.5 657.2 606.5 654.9 609.5 652.7 612.5 650.7 615.5 648.7 618.5 648.9 621.5 650.1 624.5 650.5 627.5 650.7 631.5 653.1 634.5 655.2 637.5 657.7 640.5 660.7 643.5 663.7 646.5 666.5 649.5 668.5 652.5 670.0 655.5 670.2 658.5 670.3 661.5 670.8 664.5 671.4 667.5 672.0 670.5 673.1 673.5 674.2 676.5 675.1 679.5 675.4 683.5 676.9 686.5 678.3 689.5 679.6 692.5 680.7 695.5 681.3 698.5 681.8 701.5 681.8 704.5 681.6 707.5 681.3 710.5 680.4 713.5 679.5 716.5 678.2 719.5 676.3 722.5 674.5 725.5 672.9 728.5 671.4 732.5 669.2 735.5 667.3 738.5 665.4 741.5 664.9 744.5 664.6 747.5 664.2 750.5 663.6 753.5 663.1 756.5 662.8 759.5 662.6 762.5 662.4 765.5 663.7 768.5 665.0 771.5 665.6 774.5 666.1 777.5 666.8 780.5 667.7 784.5 668.9 787.5 669.3 790.5 669.7 793.5 669.6 796.5 669.3 799.5 669.5 802.5 669.8 805.5 670.2 808.5 670.0 811.5 669.9 814.5 670.3 817.5 671.4 820.5 672.5 823.5 673.5 826.5 674.4 829.5 675.3 833.5 676.4 836.5 676.6 839.5 674.4 842.5 672.3 845.5 670.4 848.5 668.5 851.5 667.7 854.5 667.4 857.5 667.3 860.5 667.3 863.5 667.3 866.5 669.1 869.5 671.6 872.5 674.7 875.5 677.9 878.5 680.6 881.5 680.8 885.5 681.0 888.5 681.2 891.5 681.4 894.5 680.2 897.5 679.0 900.5 678.5 903.5 678.0 906.5 677.7 909.5 677.3 912.5 677.1 915.5 677.1 918.5 677.2 921.5 677.5 924.5 678.2 927.5 679.0 930.5 679.7 934.5 680.6 937.5 681.3 940.5 682.0 943.5 682.8 946.5 683.4 949.5 683.4 952.5 683.4 955.5 683.3 958.5 683.0 961.5 682.7 964.5 682.0 967.5 681.1 970.5 680.1 973.5 679.4 976.5 678.9 979.5 678.4 982.5 678.3 986.5 678.3 989.5 678.3 992.5 678.4 995.5 678.5 998.5 678.7 1001.5 678.1 1004.5 677.4 1007.5 676.6 1010.5 675.9 1013.5 675.1 1016.5 674.4 1019.5 673.8 1022.5 673.2 1025.5 672.5 1028.5 671.8 1031.5 671.0 1035.5 669.6 1038.5 668.3 1041.5 667.1 1044.5 666.7 1047.5 666.3 1050.5 665.9 1053.5 665.4 1056.5 664.9 1059.5 661.9 1062.5 658.9 1065.5 657.2 1068.5 655.7 1071.5 654.6 1074.5 653.6 1077.5 652.1 1080.5 650.3 1083.5 650.7 1087.5 653.5 1090.5 656.5 1093.5 659.0 1096.5 661.5 1099.5 662.6 1102.5 663.6 1105.5 664.0 1108.5 664.1 1111.5 664.3 1114.5 661.7 1117.5 659.0 1120.5 656.9 1123.5 654.9 1126.5 652.5 1129.5 650.0 1132.5 647.3 1136.5 643.3 1139.5 641.7 1142.5 640.5 1145.5 639.9 1148.5 639.7 1151.5 639.5 1154.5 639.4 1157.5 639.4 1160.0 639.4" stroke="#ffff00" fill="none" stroke-linejoin="bevel"/>
<path d="M0.5 675.5 3.5 681.9 6.5 680.4 9.5 682.1 12.5 682.5 15.5 683.7 18.5 683.1 21.5 680.6 24.5 679.0 28.5 679.0 31.5 679.4 34.5 679.2 37.5 684.1 40.5 685.3 43.5 686.7 46.5 687.5 49.5 686.5 52.5 685.8 55.5 685.8 58.5 684.6 61.5 683.3 64.5 684.4 67.5 685.0 70.5 685.2 73.5 684.5 77.5 685.2 80.5 685.8 83.5 685.8 86.5 686.0 89.5 687.4 92.5 688.2 95.5 688.0 98.5 687.6 101.5 686.3 104.5 686.6 107.5 686.6 110.5 687.0 113.5 687.6 116.5 686.4 119.5 683.5 122.5 682.2 125.5 680.3 129.5 679.5 132.5 681.9 135.5 685.0 138.5 687.3 141.5 690.2 144.5 688.5 147.5 684.9 150.5 682.1 153.5 678.7 156.5 676.7 159.5 679.3 162.5 682.8 165.5 684.0 168.5 685.1 171.5 685.9 174.5 686.1 178.5 686.1 181.5 686.7 184.5 686.2 187.5 686.4 190.5 685.6 193.5 685.8 196.5 687.2 199.5 689.6 202.5 690.2 205.5 691.8 208.5 692.9 211.5 693.5 214.5 692.7 217.5 692.9 220.5 692.9 223.5 691.3 226.5 690.1 230.5 691.0 233.5 691.6 236.5 691.4 239.5 692.0 242.5 692.7 245.5 693.9 248.5 694.3 251.5 694.3 254.5 696.5 257.5 696.9 260.5 696.9 263.5 696.5 266.5 697.1 269.5 695.7 272.5 695.7 275.5 695.5 279.5 696.3 282.5 696.3 285.5 697.3 288.5 697.5 291.5 696.7 294.5 695.3 297.5 693.9 300.5 693.3 303.5 693.3 306.5 694.5 309.5 695.1 312.5 696.3 315.5 696.9 318.5 696.7 321.5 696.1 324.5 695.4 327.5 695.6 331.5 695.4 334.5 696.0 337.5 696.6 340.5 694.0 343.5 692.2 346.5 691.5 349.5 689.9 352.5 689.1 355.5 692.7 358.5 694.1 361.5 694.9 364.5 696.7 367.5 698.2 370.5 699.2 373.5 700.0 376.5 700.6 380.5 700.4 383.5 699.6 386.5 699.4 389.5 699.6 392.5 700.2 395.5 700.8 398.5 701.6 401.5 701.6 404.5 700.8 407.5 696.7 410.5 694.1 413.5 693.1 416.5 692.5 419.5 693.3 422.5 696.6 425.5 698.2 428.5 698.6 432.5 698.9 435.5 699.1 438.5 699.3 441.5 699.0 444.5 698.1 447.5 697.2 450.5 694.9 453.5 688.2 456.5 682.6 459.5 677.1 462.5 667.5 465.5 650.3 468.5 632.5 471.5 620.8 474.5 616.6 477.5 615.9 481.5 630.4 484.5 645.4 487.5 654.4 490.5 660.4 493.5 659.2 496.5 658.5 499.5 657.6 502.5 654.6 505.5 655.6 508.5 656.3 511.5 654.8 514.5 653.1 517.5 651.3 520.5 645.6 523.5 641.7 526.5 640.5 529.5 636.8 533.5 631.4 536.5 628.4 539.5 625.8 542.5 623.7 545.5 623.8 548.5 629.8 551.5 637.0 554.5 643.3 557.5 646.3 560.5 649.3 563.5 652.1 566.5 654.3 569.5 656.9 572.5 660.2 575.5 662.6 578.5 664.6 582.5 665.4 585.5 665.3 588.5 662.6 591.5 659.7 594.5 656.7 597.5 655.0 600.5 653.5 603.5 651.1 606.5 648.6 609.5 646.4 612.5 644.2 615.5 642.9 618.5 645.1 621.5 649.2 624.5 654.0 627.5 658.6 631.5 664.3 634.5 666.1 637.5 667.8 640.5 669.3 643.5 670.8 646.5 672.1 649.5 673.4 652.5 671.8 655.5 670.3 658.5 669.1 661.5 670.3 664.5 671.5 667.5 673.6 670.5 676.1 673.5 678.1 676.5 679.7 679.5 678.1 683.5 679.3 686.5 679.8 689.5 680.2 692.5 680.5 695.5 681.3 698.5 682.5 701.5 682.0 704.5 681.5 707.5 681.1 710.5 680.7 713.5 678.5 716.5 675.7 719.5 672.4 722.5 668.9 725.5 666.6 728.5 665.0 732.5 665.4 735.5 663.9 738.5 663.3 741.5 663.3 744.5 663.2 747.5 662.8 750.5 662.4 753.5 662.1 756.5 661.7 759.5 660.7 762.5 662.4 765.5 665.0 768.5 666.5 771.5 668.0 774.5 669.3 777.5 670.5 780.5 671.5 784.5 671.3 787.5 670.6 790.5 669.6 793.5 668.6 796.5 667.6 799.5 667.9 802.5 668.9 805.5 670.2 808.5 671.7 811.5 672.2 814.5 672.2 817.5 673.1 820.5 674.4 823.5 675.6 826.5 676.6 829.5 677.7 833.5 679.3 836.5 676.5 839.5 673.1 842.5 668.9 845.5 663.5 848.5 658.5 851.5 655.5 854.5 661.5 857.5 668.3 860.5 675.3 863.5 678.3 866.5 680.7 869.5 682.2 872.5 682.5 875.5 682.5 878.5 682.5 881.5 682.2 885.5 681.4 888.5 681.4 891.5 681.4 894.5 679.3 897.5 677.1 900.5 676.3 903.5 675.5 906.5 675.8 909.5 676.1 912.5 676.8 915.5 677.5 918.5 678.2 921.5 679.0 924.5 679.7 927.5 680.5 930.5 681.3 934.5 682.5 937.5 683.4 940.5 684.0 943.5 684.6 946.5 685.0 949.5 684.4 952.5 683.8 955.5 683.2 958.5 682.7 961.5 682.2 964.5 681.1 967.5 679.6 970.5 678.3 973.5 677.1 976.5 676.4 979.5 677.4 982.5 678.3 986.5 678.6 989.5 679.4 992.5 681.4 995.5 682.4 998.5 679.9 1001.5 677.4 1004.5 674.4 1007.5 671.4 1010.5 671.3 1013.5 671.3 1016.5 672.1 1019.5 673.1 1022.5 673.1 1025.5 672.7 1028.5 672.1 1031.5 671.1 1035.5 668.3 1038.5 664.1 1041.5 661.6 1044.5 660.5 1047.5 661.3 1050.5 663.2 1053.5 665.9 1056.5 664.7 1059.5 661.6 1062.5 654.4 1065.5 648.6 1068.5 644.1 1071.5 644.7 1074.5 646.9 1077.5 650.5 1080.5 654.1 1083.5 657.6 1087.5 662.0 1090.5 665.0 1093.5 667.4 1096.5 668.6 1099.5 668.2 1102.5 666.4 1105.5 665.2 1108.5 664.2 1111.5 661.1 1114.5 656.9 1117.5 652.9 1120.5 648.9 1123.5 647.2 1126.5 646.2 1129.5 644.8 1132.5 643.3 1136.5 639.6 1139.5 636.1 1142.5 634.3 1145.5 635.4 1148.5 637.1 1151.5 636.3 1154.5 640.5 1157.5 643.8 1160.0 645.8" stroke="#ffffff" fill="none" stroke-linejoin="bevel"/>
<path d="M0.5 849V866M3.5 842V866M6.5 837V866M9.5 831V866M12.5 827V866M15.5 829V866M18.5 829V866M21.5 837V866M24.5 837V866M28.5 839V866M31.5 839V866M34.5 842V866M37.5 844V866M40.5 850V866M43.5 853V866M46.5 854V866M49.5 856V866M52.5 860V866M55.5 864V866M147.5 862V866M150.5 859V866M153.5 856V866M156.5 855V866M159.5 854V866M162.5 854V866M165.5 855V866M168.5 857V866M171.5 858V866M174.5 864V866M297.5 864V866M300.5 862V866M303.5 860V866M306.5 859V866M309.5 859V866M312.5 858V866M315.5 857V866M318.5 858V866M321.5 864V866M376.5 863V866M380.5 860V866M383.5 861V866M386.5 862V866M389.5 864V866M392.5 864V866M395.5 864V866M398.5 864V866M401.5 865V866M453.5 852V866M456.5 841V866M459.5 825V866M462.5 810V866M465.5 780V866M468.5 752V866M471.5 762V866M474.5 770V866M477.5 788V866M481.5 799V866M484.5 818V866M487.5 833V866M490.5 849V866M493.5 852V866M496.5 856V866M499.5 859V866M502.5 861V866M505.5 865V866M536.5 865V866M539.5 861V866M542.5 859V866M545.5 863V866M603.5 864V866M606.5 861V866M609.5 859V866M612.5 856V866M615.5 861V866M695.5 865V866M698.5 864V866M701.5 863V866M704.5 861V866M707.5 859V866M710.5 859V866M713.5 855V866M716.5 851V866M719.5 846V866M722.5 845V866M725.5 842V866M728.5 843V866M732.5 844V866M735.5 844V866M738.5 848V866M741.5 850V866M744.5 851V866M747.5 851V866M750.5 851V866M753.5 854V866M756.5 856V866M759.5 856V866M762.5 864V866M793.5 863V866M796.5 861V866M799.5 859V866M802.5 859V866M805.5 861V866M866.5 864V866M869.5 861V866M872.5 857V866M875.5 855V866M878.5 855V866M881.5 855V866M878.5 855V866M881.5 855V866M885.5 856V866M888.5 857V866M891.5 859V866M894.5 857V866M897.5 854V866M900.5 851V866M903.5 851V866M906.5 850V866M909.5 849V866M912.5 847V866M915.5 849V866M918.5 852V866M921.5 854V866M924.5 856V866M927.5 858V866M930.5 861V866M934.5 864V866M964.5 865V866M967.5 864V866M970.5 864V866M973.5 863V866M1001.5 862V866M1004.5 860V866M1007.5 861V866M1010.5 860V866M1013.5 859V866M1016.5 859V866M1019.5 859V866M1022.5 859V866M1025.5 859V866M1028.5 859V866M1031.5 858V866M1035.5 858V866M1038.5 859V866M1041.5 859V866M1044.5 861V866M1047.5 863V866M1050.5 864V866M1053.5 864V866M1056.5 862V866M1059.5 860V866M1062.5 858V866M1065.5 856V866M1068.5 857V866M1071.5 859V866M1074.5 859V866M1077.5 861V866M1105.5 864V866M1108.5 862V866M1111.5 863V866M1114.5 862V866M1117.5 859V866M1120.5 859V866M1123.5 856V866M1126.5 854V866M1129.5 851V866M1132.5 844V866M1136.5 843V866M1139.5 851V866M1142.5 853V866M1145.5 855V866M1148.5 856V866M1151.5 860V866" stroke="#ff3232" fill="none"/>
<path d="M70.5 866V867M73.5 866V870M77.5 866V875M80.5 866V876M83.5 866V881M86.5 866V883M89.5 866V881M92.5 866V874M95.5 866V872M98.5 866V869M101.5 866V871M104.5 866V872M107.5 866V873M110.5 866V874M113.5 866V875M116.5 866V875M119.5 866V876M122.5 866V872M125.5 866V868M129.5 866V867M132.5 866V867M135.5 866V870M138.5 866V871M141.5 866V870M193.5 866V869M196.5 866V874M199.5 866V875M202.5 866V875M205.5 866V876M208.5 866V878M211.5 866V879M214.5 866V880M217.5 866V878M220.5 866V879M223.5 866V879M226.5 866V880M230.5 866V883M233.5 866V882M236.5 866V881M239.5 866V880M242.5 866V879M245.5 866V876M248.5 866V875M251.5 866V875M254.5 866V875M257.5 866V876M260.5 866V877M263.5 866V878M266.5 866V876M269.5 866V874M272.5 866V869M288.5 866V869M324.5 866V867M327.5 866V870M331.5 866V872M334.5 866V873M337.5 866V872M340.5 866V867M349.5 866V867M352.5 866V869M355.5 866V869M358.5 866V868M361.5 866V869M364.5 866V868M367.5 866V867M370.5 866V867M410.5 866V867M413.5 866V868M416.5 866V870M419.5 866V871M422.5 866V874M425.5 866V875M428.5 866V875M432.5 866V876M435.5 866V877M438.5 866V877M441.5 866V875M444.5 866V871M447.5 866V868M508.5 866V867M511.5 866V868M514.5 866V872M517.5 866V879M520.5 866V882M523.5 866V885M526.5 866V884M529.5 866V877M533.5 866V871M551.5 866V872M554.5 866V883M557.5 866V891M560.5 866V893M563.5 866V892M566.5 866V890M569.5 866V899M572.5 866V904M575.5 866V904M578.5 866V901M582.5 866V897M585.5 866V893M588.5 866V884M591.5 866V877M594.5 866V873M597.5 866V870M621.5 866V870M624.5 866V872M627.5 866V873M631.5 866V875M634.5 866V878M637.5 866V875M640.5 866V872M643.5 866V871M646.5 866V869M649.5 866V868M652.5 866V872M655.5 866V883M658.5 866V893M661.5 866V899M664.5 866V898M667.5 866V897M670.5 866V897M673.5 866V895M676.5 866V893M679.5 866V887M683.5 866V881M686.5 866V875M689.5 866V870M765.5 866V868M768.5 866V870M771.5 866V870M774.5 866V867M811.5 866V871M814.5 866V872M817.5 866V873M820.5 866V875M823.5 866V876M826.5 866V878M829.5 866V878M833.5 866V877M836.5 866V877M839.5 866V899M842.5 866V905M845.5 866V905M848.5 866V898M851.5 866V890M854.5 866V883M857.5 866V876M860.5 866V870M937.5 866V867M940.5 866V870M943.5 866V869M946.5 866V870M949.5 866V871M952.5 866V870M955.5 866V868M986.5 866V867M989.5 866V870M992.5 866V871M995.5 866V871M1083.5 866V868M1087.5 866V871M1090.5 866V869M1093.5 866V867M1157.5 866V877M1160.5 866V879" stroke="#54ffff" fill="none"/>
<path d="M0.5 887.6 3.5 883.9 6.5 879.6 9.5 874.8 12.5 870.2 15.5 866.0 18.5 862.2 21.5 858.7 24.5 855.2 28.5 851.2 31.5 848.2 34.5 845.6 37.5 843.1 40.5 840.9 43.5 839.2 46.5 837.5 49.5 836.7 52.5 835.9 55.5 835.5 58.5 835.5 61.5 835.5 64.5 835.6 67.5 835.8 70.5 836.0 73.5 836.7 77.5 837.7 80.5 839.6 83.5 842.0 86.5 843.9 89.5 845.4 92.5 846.6 95.5 846.9 98.5 847.2 101.5 848.1 104.5 849.1 107.5 850.1 110.5 851.6 113.5 853.1 116.5 854.3 119.5 855.2 122.5 856.1 125.5 856.9 129.5 857.5 132.5 858.0 135.5 858.3 138.5 858.3 141.5 858.3 144.5 858.3 147.5 857.4 150.5 856.4 153.5 855.2 156.5 853.9 159.5 852.6 162.5 851.1 165.5 849.6 168.5 848.4 171.5 847.4 174.5 846.6 178.5 846.6 181.5 846.6 184.5 846.3 187.5 846.1 190.5 845.9 193.5 846.6 196.5 847.6 199.5 848.6 202.5 849.6 205.5 850.6 208.5 852.2 211.5 854.0 214.5 855.7 217.5 857.6 220.5 859.7 223.5 861.8 226.5 864.0 230.5 866.9 233.5 869.0 236.5 871.0 239.5 872.8 242.5 874.5 245.5 876.1 248.5 877.0 251.5 877.9 254.5 878.8 257.5 880.3 260.5 881.9 263.5 883.4 266.5 884.8 269.5 886.2 272.5 886.3 275.5 886.3 279.5 886.3 282.5 886.5 285.5 886.7 288.5 887.0 291.5 886.6 294.5 886.1 297.5 885.6 300.5 885.0 303.5 884.1 306.5 883.2 309.5 882.3 312.5 881.4 315.5 880.5 318.5 879.6 321.5 879.7 324.5 880.2 327.5 880.7 331.5 881.6 334.5 882.4 337.5 883.1 340.5 883.5 343.5 883.5 346.5 883.5 349.5 883.6 352.5 884.1 355.5 884.6 358.5 885.2 361.5 885.5 364.5 885.9 367.5 886.3 370.5 886.6 373.5 886.0 376.5 885.3 380.5 884.3 383.5 883.8 386.5 883.3 389.5 882.9 392.5 882.6 395.5 882.5 398.5 882.3 401.5 882.3 404.5 882.3 407.5 882.3 410.5 882.3 413.5 882.9 416.5 883.5 419.5 884.1 422.5 885.1 425.5 886.2 428.5 887.2 432.5 888.9 435.5 890.3 438.5 891.6 441.5 892.6 444.5 893.4 447.5 893.8 450.5 892.9 453.5 891.2 456.5 886.4 459.5 881.1 462.5 872.1 465.5 861.6 468.5 849.6 471.5 837.6 474.5 826.1 477.5 816.4 481.5 806.9 484.5 801.7 487.5 798.7 490.5 796.1 493.5 794.6 496.5 793.1 499.5 792.2 502.5 791.6 505.5 790.9 508.5 791.1 511.5 791.4 514.5 792.4 517.5 794.2 520.5 796.1 523.5 798.1 526.5 800.1 529.5 801.5 533.5 802.8 536.5 803.0 539.5 802.2 542.5 801.4 545.5 801.2 548.5 801.0 551.5 802.4 554.5 805.1 557.5 807.9 560.5 811.3 563.5 814.6 566.5 818.0 569.5 822.8 572.5 827.8 575.5 832.4 578.5 836.4 582.5 841.1 585.5 842.9 588.5 844.7 591.5 846.5 594.5 847.7 597.5 848.0 600.5 848.3 603.5 847.6 606.5 846.8 609.5 846.0 612.5 845.1 615.5 844.2 618.5 844.5 621.5 845.3 624.5 846.2 627.5 847.2 631.5 848.7 634.5 849.9 637.5 850.7 640.5 851.4 643.5 852.2 646.5 853.0 649.5 853.8 652.5 856.0 655.5 859.3 658.5 863.0 661.5 867.0 664.5 871.0 667.5 874.5 670.5 878.0 673.5 881.2 676.5 884.2 679.5 887.0 683.5 888.7 686.5 890.0 689.5 890.0 692.5 890.0 695.5 889.8 698.5 889.3 701.5 888.9 704.5 888.1 707.5 887.2 710.5 886.2 713.5 884.7 716.5 883.0 719.5 880.9 722.5 878.2 725.5 875.5 728.5 872.5 732.5 868.5 735.5 866.1 738.5 863.8 741.5 861.7 744.5 860.0 747.5 858.3 750.5 856.5 753.5 854.7 756.5 853.5 759.5 853.0 762.5 852.5 765.5 852.9 768.5 853.3 771.5 853.6 774.5 853.7 777.5 853.7 780.5 853.7 784.5 853.6 787.5 853.5 790.5 853.3 793.5 852.8 796.5 852.0 799.5 851.2 802.5 850.4 805.5 849.6 808.5 849.8 811.5 850.6 814.5 851.5 817.5 852.5 820.5 853.5 823.5 854.8 826.5 856.3 829.5 857.9 833.5 860.2 836.5 862.2 839.5 866.2 842.5 870.3 845.5 875.1 848.5 879.6 851.5 881.9 854.5 884.2 857.5 885.2 860.5 885.4 863.5 885.4 866.5 884.4 869.5 883.4 872.5 882.3 875.5 881.1 878.5 879.9 881.5 878.7 885.5 877.1 888.5 875.7 891.5 874.2 894.5 872.7 897.5 870.9 900.5 869.1 903.5 867.2 906.5 865.3 909.5 863.3 912.5 861.3 915.5 859.3 918.5 857.3 921.5 855.7 924.5 854.7 927.5 853.7 930.5 853.7 934.5 853.7 937.5 854.2 940.5 854.7 943.5 855.2 946.5 855.7 949.5 856.2 952.5 856.3 955.5 856.5 958.5 856.6 961.5 856.4 964.5 856.1 967.5 855.9 970.5 855.6 973.5 855.4 976.5 855.1 979.5 855.0 982.5 855.3 986.5 855.7 989.5 856.4 992.5 857.1 995.5 857.2 998.5 856.9 1001.5 856.5 1004.5 855.9 1007.5 855.2 1010.5 854.2 1013.5 853.2 1016.5 852.3 1019.5 851.6 1022.5 850.9 1025.5 850.0 1028.5 849.0 1031.5 847.9 1035.5 846.1 1038.5 845.0 1041.5 844.5 1044.5 844.0 1047.5 843.8 1050.5 843.6 1053.5 843.1 1056.5 842.1 1059.5 841.1 1062.5 839.8 1065.5 838.5 1068.5 837.3 1071.5 836.1 1074.5 834.9 1077.5 835.1 1080.5 835.3 1083.5 835.6 1087.5 836.3 1090.5 836.5 1093.5 836.3 1096.5 836.1 1099.5 836.0 1102.5 835.9 1105.5 835.9 1108.5 835.4 1111.5 834.7 1114.5 834.0 1117.5 833.1 1120.5 831.8 1123.5 830.5 1126.5 828.8 1129.5 827.1 1132.5 825.0 1136.5 822.0 1139.5 819.9 1142.5 818.2 1145.5 816.5 1148.5 816.0 1151.5 815.5 1154.5 815.7 1157.5 816.7 1160.0 817.5" stroke="#ffff00" fill="none" stroke-linejoin="bevel"/>
<path d="M0.5 878.5 3.5 871.5 6.5 863.5 9.5 857.0 12.5 851.2 15.5 847.4 18.5 844.5 21.5 842.7 24.5 840.7 28.5 837.5 31.5 835.5 34.5 833.7 37.5 832.4 40.5 832.4 43.5 832.2 46.5 831.3 49.5 831.4 52.5 832.3 55.5 833.3 58.5 834.2 61.5 834.6 64.5 835.0 67.5 835.4 70.5 836.5 73.5 838.0 77.5 842.0 80.5 845.4 83.5 849.0 86.5 851.2 89.5 851.6 92.5 850.8 95.5 850.4 98.5 850.7 101.5 851.9 104.5 853.5 107.5 855.2 110.5 857.0 113.5 858.5 116.5 859.2 119.5 859.9 122.5 859.2 125.5 858.2 129.5 857.9 132.5 858.4 135.5 859.0 138.5 859.6 141.5 859.8 144.5 858.6 147.5 857.2 150.5 854.8 153.5 852.4 156.5 850.0 159.5 847.7 162.5 846.2 165.5 844.7 168.5 844.1 171.5 844.1 174.5 845.3 178.5 846.5 181.5 846.0 184.5 845.6 187.5 845.8 190.5 846.8 193.5 847.8 196.5 850.7 199.5 853.5 202.5 856.0 205.5 858.5 208.5 860.6 211.5 862.6 214.5 864.4 217.5 865.9 220.5 867.4 223.5 869.8 226.5 872.3 230.5 875.2 233.5 877.2 236.5 878.8 239.5 879.6 242.5 880.4 245.5 881.1 248.5 881.8 251.5 882.9 254.5 884.4 257.5 885.9 260.5 887.7 263.5 889.5 266.5 890.2 269.5 890.2 272.5 888.1 275.5 886.0 279.5 885.8 282.5 886.0 285.5 887.0 288.5 888.0 291.5 886.9 294.5 885.1 297.5 883.4 300.5 881.9 303.5 880.4 306.5 879.2 309.5 878.2 312.5 877.3 315.5 876.9 318.5 876.9 321.5 879.6 324.5 881.8 327.5 883.3 331.5 885.1 334.5 886.3 337.5 886.5 340.5 884.3 343.5 883.1 346.5 884.3 349.5 885.3 352.5 885.9 355.5 886.5 358.5 886.8 361.5 887.0 364.5 887.1 367.5 886.9 370.5 886.8 373.5 885.6 376.5 883.3 380.5 881.0 383.5 881.0 386.5 881.0 389.5 881.0 392.5 880.8 395.5 880.7 398.5 880.6 401.5 881.0 404.5 881.4 407.5 881.7 410.5 882.8 413.5 883.8 416.5 884.9 419.5 886.4 422.5 888.2 425.5 890.1 428.5 892.1 432.5 894.7 435.5 896.4 438.5 898.1 441.5 898.1 444.5 897.2 447.5 895.6 450.5 891.4 453.5 884.4 456.5 875.4 459.5 857.9 462.5 839.9 465.5 818.4 468.5 798.0 471.5 785.5 474.5 778.8 477.5 776.4 481.5 774.7 484.5 777.7 487.5 781.4 490.5 785.9 493.5 787.1 496.5 787.6 499.5 788.3 502.5 789.3 505.5 790.3 508.5 791.5 511.5 792.7 514.5 796.6 517.5 800.8 520.5 804.2 523.5 807.4 526.5 810.7 529.5 808.5 533.5 805.3 536.5 802.0 539.5 799.6 542.5 797.7 545.5 799.2 548.5 802.2 551.5 807.4 554.5 813.7 557.5 820.3 560.5 824.3 563.5 827.3 566.5 830.3 569.5 837.6 572.5 845.6 575.5 851.2 578.5 853.4 582.5 855.5 585.5 856.4 588.5 854.5 591.5 852.5 594.5 850.9 597.5 849.9 600.5 848.8 603.5 847.2 606.5 845.0 609.5 842.8 612.5 840.6 615.5 842.4 618.5 844.9 621.5 847.2 624.5 849.5 627.5 851.5 631.5 854.0 634.5 855.4 637.5 855.4 640.5 855.4 643.5 855.4 646.5 855.2 649.5 855.0 652.5 859.8 655.5 866.1 658.5 875.1 661.5 881.2 664.5 885.7 667.5 889.3 670.5 892.9 673.5 895.9 676.5 898.9 679.5 897.7 683.5 895.7 686.5 894.2 689.5 892.7 692.5 891.2 695.5 889.7 698.5 888.2 701.5 886.2 704.5 884.2 707.5 883.0 710.5 882.7 713.5 878.8 716.5 874.3 719.5 870.0 722.5 865.8 725.5 862.1 728.5 858.5 732.5 855.8 735.5 854.2 738.5 854.2 741.5 854.2 744.5 852.8 747.5 850.1 750.5 848.8 753.5 848.8 756.5 848.3 759.5 847.1 762.5 850.1 765.5 852.8 768.5 854.6 771.5 856.0 774.5 854.8 777.5 854.0 780.5 853.5 784.5 853.6 787.5 854.0 790.5 853.4 793.5 851.0 796.5 848.9 799.5 847.4 802.5 846.8 805.5 848.3 808.5 850.2 811.5 852.4 814.5 854.1 817.5 855.5 820.5 857.3 823.5 859.3 826.5 861.2 829.5 862.4 833.5 866.2 836.5 872.9 839.5 880.8 842.5 888.6 845.5 893.2 848.5 896.1 851.5 894.1 854.5 892.0 857.5 890.0 860.5 888.0 863.5 885.5 866.5 883.0 869.5 880.5 872.5 878.0 875.5 875.7 878.5 874.3 881.5 872.9 885.5 871.8 888.5 871.4 891.5 870.9 894.5 868.8 897.5 866.4 900.5 863.5 903.5 860.5 906.5 857.7 909.5 855.2 912.5 852.7 915.5 851.9 918.5 851.2 921.5 850.6 924.5 850.3 927.5 850.1 930.5 851.3 934.5 853.0 937.5 854.8 940.5 856.3 943.5 856.9 946.5 857.5 949.5 858.1 952.5 857.8 955.5 857.5 958.5 857.0 961.5 856.3 964.5 855.7 967.5 855.4 970.5 855.1 973.5 855.1 976.5 855.4 979.5 855.7 982.5 855.7 986.5 856.9 989.5 859.5 992.5 860.2 995.5 860.0 998.5 857.3 1001.5 854.7 1004.5 853.2 1007.5 851.7 1010.5 850.6 1013.5 849.6 1016.5 848.6 1019.5 847.8 1022.5 847.0 1025.5 845.9 1028.5 844.7 1031.5 843.6 1035.5 842.2 1038.5 841.5 1041.5 841.5 1044.5 841.5 1047.5 841.6 1050.5 841.8 1053.5 841.4 1056.5 839.7 1059.5 838.0 1062.5 836.0 1065.5 833.9 1068.5 833.3 1071.5 833.0 1074.5 832.3 1077.5 832.2 1080.5 835.2 1083.5 836.9 1087.5 837.9 1090.5 838.0 1093.5 837.3 1096.5 836.6 1099.5 835.9 1102.5 835.2 1105.5 834.6 1108.5 834.1 1111.5 833.5 1114.5 831.7 1117.5 829.9 1120.5 827.7 1123.5 825.3 1126.5 821.7 1129.5 817.2 1132.5 813.1 1136.5 811.0 1139.5 812.1 1142.5 811.8 1145.5 811.3 1148.5 810.5 1151.5 812.1 1154.5 816.4 1157.5 821.5 1160.0 823.8" stroke="#ffffff" fill="none" stroke-linejoin="bevel"/>
<rect x="0" y="19" width="1224" height="1" fill="#c00000"/>
<rect x="22" y="0" width="1" height="19" fill="#c00000"/>
<rect x="1171" y="20" width="1" height="889" fill="#c00000"/>
<rect x="1222" y="20" width="1" height="908" fill="#c00000"/>
<rect x="0" y="553" width="1171" height="1" fill="#c00000"/>
<rect x="0" y="731" width="1222" height="1" fill="#c00000"/>
<rect x="0" y="909" width="1222" height="1" fill="#c00000"/>
<rect x="0" y="925" width="1222" height="1" fill="#c00000"/>
<rect x="1223" y="27" width="1" height="1" fill="#c00000"/>
<rect x="1223" y="65" width="1" height="1" fill="#c00000"/>
<rect x="1223" y="144" width="1" height="1" fill="#c00000"/>
<rect x="1172" y="732" width="50" height="177" fill="none" stroke="#c00000" stroke-width="2"/>
<rect x="907" y="0" width="1" height="19" fill="#c00000"/>
<rect x="940" y="0" width="1" height="19" fill="#c00000"/>
<rect x="975" y="0" width="1" height="19" fill="#c00000"/>
<rect x="1010" y="0" width="1" height="19" fill="#c00000"/>
<rect x="1045" y="0" width="1" height="19" fill="#c00000"/>
<rect x="1080" y="0" width="1" height="19" fill="#c00000"/>
<rect x="1115" y="0" width="1" height="19" fill="#c00000"/>
<rect x="1150" y="0" width="1" height="19" fill="#c00000"/>
<rect x="1185" y="0" width="1" height="19" fill="#c00000"/>
<rect x="5.5" y="3.5" width="11" height="9" rx="2" fill="none" stroke="#808080" shape-rendering="auto"/>
<rect x="12" y="5" width="3" height="6" fill="#909090"/>
<rect x="1156.5" y="24.5" width="11" height="10" rx="2" fill="none" stroke="#808080" shape-rendering="auto"/>
<rect x="1163" y="26" width="3" height="7" fill="#909090"/>
<path d="M1143.5 24.5 L1148.5 29.5 L1143.5 34.5 L1138.5 29.5 Z" fill="none" stroke="#707070" shape-rendering="auto"/>
<rect x="1155" y="37" width="6" height="3" fill="#ff00ff"/>
<circle cx="94" cy="29" r="6" fill="#7a7a7a"/><path d="M90.5 27.5 L94 31 L97.5 27.5" stroke="#000" fill="none" stroke-width="1.3" shape-rendering="auto"/>
<rect x="1171" y="486" width="6" height="1" fill="#c00000"/>
<rect x="1171" y="445" width="3" height="1" fill="#c00000"/>
<rect x="1171" y="404" width="6" height="1" fill="#c00000"/>
<rect x="1171" y="363" width="3" height="1" fill="#c00000"/>
<rect x="1171" y="322" width="6" height="1" fill="#c00000"/>
<rect x="1171" y="281" width="3" height="1" fill="#c00000"/>
<rect x="1171" y="240" width="6" height="1" fill="#c00000"/>
<rect x="1171" y="199" width="3" height="1" fill="#c00000"/>
<rect x="1171" y="158" width="6" height="1" fill="#c00000"/>
<rect x="1171" y="117" width="3" height="1" fill="#c00000"/>
<rect x="1171" y="76" width="6" height="1" fill="#c00000"/>
<path d="M1114 44.6 L1132.5 41 M1128 38.6 L1133 40.9 L1129 44.5" fill="none" stroke="#c0c0c0" shape-rendering="auto"/>
<path d="M452.5 531.5 L441.5 531.5 M445 528 L441.5 531.5 L445 535" fill="none" stroke="#c0c0c0" shape-rendering="auto"/>
<rect x="1171" y="610" width="6" height="1" fill="#c00000"/>
<rect x="1171" y="640" width="3" height="1" fill="#c00000"/>
<rect x="1171" y="669" width="6" height="1" fill="#c00000"/>
<rect x="1171.5" y="716.5" width="38" height="15" fill="none" stroke="#c00000"/>
<rect x="1171" y="759" width="6" height="1" fill="#c00000"/>
<rect x="1171" y="794" width="6" height="1" fill="#c00000"/>
<rect x="1171" y="830" width="6" height="1" fill="#c00000"/>
<rect x="1171" y="865" width="6" height="1" fill="#c00000"/>
<rect x="1173" y="777" width="2" height="1" fill="#c00000"/>
<rect x="1173" y="812" width="2" height="1" fill="#c00000"/>
<rect x="1173" y="848" width="2" height="1" fill="#c00000"/>
<rect x="1173" y="785" width="48" height="14" fill="#000080"/>
<rect x="1171" y="784" width="51" height="1" fill="#c00000"/>
<circle cx="7" cy="562" r="6" fill="#7a7a7a"/><path d="M3.5 560.5 L7 564 L10.5 560.5" stroke="#000" fill="none" stroke-width="1.3" shape-rendering="auto"/>
<circle cx="7" cy="740" r="6" fill="#7a7a7a"/><path d="M3.5 738.5 L7 742 L10.5 738.5" stroke="#000" fill="none" stroke-width="1.3" shape-rendering="auto"/>
<rect x="91" y="909" width="1" height="16" fill="#c00000"/>
<rect x="152" y="909" width="1" height="16" fill="#c00000"/>
<rect x="213" y="909" width="1" height="16" fill="#c00000"/>
<rect x="271" y="909" width="1" height="16" fill="#c00000"/>
<rect x="342" y="909" width="1" height="16" fill="#c00000"/>
<rect x="409" y="909" width="1" height="16" fill="#c00000"/>
<rect x="467" y="909" width="1" height="16" fill="#c00000"/>
<rect x="522" y="909" width="1" height="16" fill="#c00000"/>
<rect x="587" y="909" width="1" height="16" fill="#c00000"/>
<rect x="654" y="909" width="1" height="16" fill="#c00000"/>
<rect x="709" y="909" width="1" height="16" fill="#c00000"/>
<rect x="764" y="909" width="1" height="16" fill="#c00000"/>
<rect x="828" y="909" width="1" height="16" fill="#c00000"/>
<rect x="893" y="909" width="1" height="16" fill="#c00000"/>
<rect x="1012" y="909" width="1" height="16" fill="#c00000"/>
<rect x="1082" y="909" width="1" height="16" fill="#c00000"/>
<rect x="1147" y="909" width="1" height="16" fill="#c00000"/>
<rect x="43" y="910" width="1" height="2" fill="#c00000"/>
<rect x="59" y="910" width="1" height="2" fill="#c00000"/>
<rect x="75" y="910" width="1" height="2" fill="#c00000"/>
<rect x="106" y="910" width="1" height="2" fill="#c00000"/>
<rect x="122" y="910" width="1" height="2" fill="#c00000"/>
<rect x="137" y="910" width="1" height="2" fill="#c00000"/>
<rect x="167" y="910" width="1" height="2" fill="#c00000"/>
<rect x="183" y="910" width="1" height="2" fill="#c00000"/>
<rect x="198" y="910" width="1" height="2" fill="#c00000"/>
<rect x="228" y="910" width="1" height="2" fill="#c00000"/>
<rect x="242" y="910" width="1" height="2" fill="#c00000"/>
<rect x="257" y="910" width="1" height="2" fill="#c00000"/>
<rect x="289" y="910" width="1" height="2" fill="#c00000"/>
<rect x="307" y="910" width="1" height="2" fill="#c00000"/>
<rect x="324" y="910" width="1" height="2" fill="#c00000"/>
<rect x="359" y="910" width="1" height="2" fill="#c00000"/>
<rect x="376" y="910" width="1" height="2" fill="#c00000"/>
<rect x="392" y="910" width="1" height="2" fill="#c00000"/>
<rect x="424" y="910" width="1" height="2" fill="#c00000"/>
<rect x="438" y="910" width="1" height="2" fill="#c00000"/>
<rect x="453" y="910" width="1" height="2" fill="#c00000"/>
<rect x="481" y="910" width="1" height="2" fill="#c00000"/>
<rect x="495" y="910" width="1" height="2" fill="#c00000"/>
<rect x="508" y="910" width="1" height="2" fill="#c00000"/>
<rect x="538" y="910" width="1" height="2" fill="#c00000"/>
<rect x="555" y="910" width="1" height="2" fill="#c00000"/>
<rect x="571" y="910" width="1" height="2" fill="#c00000"/>
<rect x="604" y="910" width="1" height="2" fill="#c00000"/>
<rect x="621" y="910" width="1" height="2" fill="#c00000"/>
<rect x="637" y="910" width="1" height="2" fill="#c00000"/>
<rect x="668" y="910" width="1" height="2" fill="#c00000"/>
<rect x="682" y="910" width="1" height="2" fill="#c00000"/>
<rect x="695" y="910" width="1" height="2" fill="#c00000"/>
<rect x="723" y="910" width="1" height="2" fill="#c00000"/>
<rect x="737" y="910" width="1" height="2" fill="#c00000"/>
<rect x="750" y="910" width="1" height="2" fill="#c00000"/>
<rect x="780" y="910" width="1" height="2" fill="#c00000"/>
<rect x="796" y="910" width="1" height="2" fill="#c00000"/>
<rect x="812" y="910" width="1" height="2" fill="#c00000"/>
<rect x="844" y="910" width="1" height="2" fill="#c00000"/>
<rect x="861" y="910" width="1" height="2" fill="#c00000"/>
<rect x="877" y="910" width="1" height="2" fill="#c00000"/>
<rect x="982" y="910" width="1" height="2" fill="#c00000"/>
<rect x="997" y="910" width="1" height="2" fill="#c00000"/>
<rect x="1030" y="910" width="1" height="2" fill="#c00000"/>
<rect x="1047" y="910" width="1" height="2" fill="#c00000"/>
<rect x="1065" y="910" width="1" height="2" fill="#c00000"/>
<rect x="1098" y="910" width="1" height="2" fill="#c00000"/>
<rect x="1115" y="910" width="1" height="2" fill="#c00000"/>
<rect x="1131" y="910" width="1" height="2" fill="#c00000"/>
<rect x="901" y="910" width="77" height="14" fill="#000080"/>
<rect x="41" y="926" width="1" height="2" fill="#c00000"/>
<rect x="83" y="926" width="1" height="2" fill="#c00000"/>
<rect x="114" y="926" width="1" height="2" fill="#c00000"/>
<rect x="172" y="926" width="1" height="2" fill="#c00000"/>
<rect x="210" y="926" width="1" height="2" fill="#c00000"/>
<rect x="295" y="926" width="1" height="2" fill="#c00000"/>
<rect x="350" y="926" width="1" height="2" fill="#c00000"/>
<rect x="406" y="926" width="1" height="2" fill="#c00000"/>
<rect x="485" y="926" width="1" height="2" fill="#c00000"/>
<rect x="552" y="926" width="1" height="2" fill="#c00000"/>
<rect x="596" y="926" width="1" height="2" fill="#c00000"/>
<rect x="639" y="926" width="1" height="2" fill="#c00000"/>
<rect x="683" y="926" width="1" height="2" fill="#c00000"/>
<rect x="747" y="926" width="1" height="2" fill="#c00000"/>
<rect x="809" y="926" width="1" height="2" fill="#c00000"/>
<rect x="900" y="926" width="1" height="2" fill="#c00000"/>
<rect x="979" y="926" width="1" height="2" fill="#c00000"/>
<rect x="1064" y="926" width="1" height="2" fill="#c00000"/>
<rect x="1129" y="926" width="1" height="2" fill="#c00000"/>
<rect x="1196" y="926" width="1" height="2" fill="#c00000"/>
<rect x="1171" y="909" width="1" height="16" fill="#c00000"/>
<g font-size="12">
<text x="27" y="13.4" fill="#c0c0c0">分时</text>
<text x="60.6" y="13.4" fill="#c0c0c0">1分钟</text>
<text x="98.8" y="13.4" fill="#c0c0c0">5分钟</text>
<text x="138.7" y="13.4" fill="#c0c0c0">15分钟</text>
<text x="184" y="13.4" fill="#c0c0c0">30分钟</text>
<text x="230" y="13.4" fill="#c0c0c0">60分钟</text>
<text x="277" y="13.4" fill="#54ffff">日线</text>
<text x="311" y="13.4" fill="#c0c0c0">周线</text>
<text x="344" y="13.4" fill="#c0c0c0">月线</text>
<text x="378" y="13.4" fill="#c0c0c0">10分钟</text>
<text x="425" y="13.4" fill="#c0c0c0">45日线</text>
<text x="471" y="13.4" fill="#c0c0c0">季线</text>
<text x="504" y="13.4" fill="#c0c0c0">年线</text>
<text x="537" y="13.4" fill="#c0c0c0">多周期</text>
<text x="581" y="13.4" fill="#c0c0c0">更多 &gt;</text>
<text x="924.0" y="13.4" fill="#c0c0c0" text-anchor="middle">指标</text>
<text x="958.0" y="13.4" fill="#c0c0c0" text-anchor="middle">叠加</text>
<text x="993.0" y="13.4" fill="#c0c0c0" text-anchor="middle">事件</text>
<text x="1028.0" y="13.4" fill="#c0c0c0" text-anchor="middle">统计</text>
<text x="1063.0" y="13.4" fill="#c0c0c0" text-anchor="middle">画线</text>
<text x="1098.0" y="13.4" fill="#c0c0c0" text-anchor="middle">F10</text>
<text x="1133.0" y="13.4" fill="#c0c0c0" text-anchor="middle">标记</text>
<text x="1168.0" y="13.4" fill="#c0c0c0" text-anchor="middle">+自选</text>
<text x="1204.0" y="13.4" fill="#c0c0c0" text-anchor="middle">返回</text>
<text x="2" y="33.1" fill="#c0c0c0">上证指数(日线)</text>
<text x="104" y="33.1" fill="#fff" textLength="73.4" lengthAdjust="spacingAndGlyphs">MA5: 3825.12</text>
<text x="183.2" y="33.1" fill="#ffff00" textLength="80.2" lengthAdjust="spacingAndGlyphs">MA10: 3837.94</text>
<text x="270" y="33.1" fill="#ff00ff" textLength="79.4" lengthAdjust="spacingAndGlyphs">MA20: 3777.90</text>
<text x="355" y="33.1" fill="#00ff00" textLength="80.7" lengthAdjust="spacingAndGlyphs">MA60: 3598.65</text>
<text x="1189.5" y="491.0" fill="#ff3232">2800</text>
<text x="1189.5" y="450.0" fill="#ff3232">2900</text>
<text x="1189.5" y="409.0" fill="#ff3232">3000</text>
<text x="1189.5" y="368.0" fill="#ff3232">3100</text>
<text x="1189.5" y="327.0" fill="#ff3232">3200</text>
<text x="1189.5" y="286.0" fill="#ff3232">3300</text>
<text x="1189.5" y="245.0" fill="#ff3232">3400</text>
<text x="1189.5" y="204.0" fill="#ff3232">3500</text>
<text x="1189.5" y="163.0" fill="#ff3232">3600</text>
<text x="1189.5" y="122.0" fill="#ff3232">3700</text>
<text x="1189.5" y="81.0" fill="#ff3232">3800</text>
<text x="1067.5" y="49.4" fill="#c0c0c0">3888.60</text>
<text x="455.5" y="536.4" fill="#c0c0c0">2689.70</text>
<text x="1216.3" y="615.0" fill="#ff3232" text-anchor="end">10000</text>
<text x="1216.3" y="646.0" fill="#ff3232" text-anchor="end">7500</text>
<text x="1216.3" y="674.0" fill="#ff3232" text-anchor="end">5000</text>
<text x="1174" y="728.4" fill="#ff3232">X10万</text>
<text x="1216.3" y="764.0" fill="#ff3232" text-anchor="end">150.0</text>
<text x="1216.3" y="835.0" fill="#ff3232" text-anchor="end">50.00</text>
<text x="1216.3" y="870.0" fill="#ff3232" text-anchor="end">0.00</text>
<text x="1173" y="796.8" fill="#d0d0d0">92.2</text>
<text x="17" y="566.4" fill="#c0c0c0" textLength="81.9" lengthAdjust="spacingAndGlyphs">VOL-TDX(5,10)</text>
<text x="104" y="566.4" fill="#fff">VOLUME: 626223360</text>
<text x="227" y="566.4" fill="#fff">MA5: 698489664</text>
<text x="324" y="566.4" fill="#ffff00">MA10: 749893568</text>
<text x="17" y="744.4" fill="#c0c0c0">MACD(12,26,9)</text>
<text x="105" y="744.4" fill="#fff">DIF: 57.75</text>
<text x="166" y="744.4" fill="#ffff00" textLength="59.5" lengthAdjust="spacingAndGlyphs">DEA: 67.21</text>
<text x="232" y="744.4" fill="#ff00ff" textLength="73.7" lengthAdjust="spacingAndGlyphs">MACD: -18.91</text>
<text x="1" y="922.4" fill="#ff3232">2024年</text>
<text x="93" y="922.4" fill="#ff3232">4</text>
<text x="154" y="922.4" fill="#ff3232">5</text>
<text x="215" y="922.4" fill="#ff3232">6</text>
<text x="273" y="922.4" fill="#ff3232">7</text>
<text x="344" y="922.4" fill="#ff3232">8</text>
<text x="411" y="922.4" fill="#ff3232">9</text>
<text x="469" y="922.4" fill="#ff3232">10</text>
<text x="524" y="922.4" fill="#ff3232">11</text>
<text x="589" y="922.4" fill="#ff3232">12</text>
<text x="656" y="922.4" fill="#ff3232">1</text>
<text x="711" y="922.4" fill="#ff3232">2</text>
<text x="766" y="922.4" fill="#ff3232">3</text>
<text x="830" y="922.4" fill="#ff3232">4</text>
<text x="895" y="922.4" fill="#ff3232">5</text>
<text x="1014" y="922.4" fill="#ff3232">7</text>
<text x="1084" y="922.4" fill="#ff3232">8</text>
<text x="1149" y="922.4" fill="#ff3232">9</text>
<text x="902" y="922.0" fill="#fff">2025/05/08/四</text>
<text x="1184" y="922.4" fill="#c0c0c0">日线</text>
</g>
</svg>
</body></html>
